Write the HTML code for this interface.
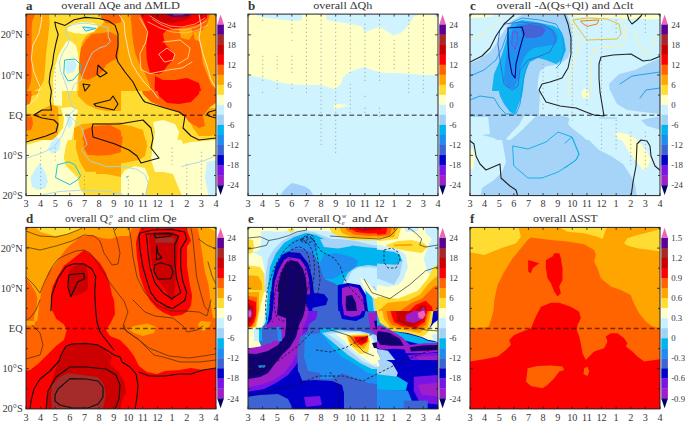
<!DOCTYPE html>
<html><head><meta charset="utf-8"><style>
html,body{margin:0;padding:0;background:#fff;overflow:hidden;}
svg{display:block;}
text{font-family:"Liberation Serif",serif;fill:#383838;}
</style></head><body>
<svg width="685" height="422" viewBox="0 0 685 422">
<defs><clipPath id="cp"><rect x="0" y="0" width="190" height="181.5"/></clipPath></defs>

<clipPath id="cpa"><rect x="26" y="14.1" width="190" height="181.5"/></clipPath>
<g clip-path="url(#cpa)">
<defs>
<clipPath id="ta1"><rect x="26" y="14" width="95" height="77"/></clipPath>
<clipPath id="ta2"><rect x="121" y="14" width="96" height="77"/></clipPath>
<clipPath id="ta4"><rect x="26" y="91" width="95" height="49"/></clipPath>
<clipPath id="ta5"><rect x="121" y="91" width="96" height="49"/></clipPath>
<clipPath id="ta6a"><rect x="26" y="140" width="70" height="57"/></clipPath>
<clipPath id="ta6b"><rect x="96" y="140" width="25" height="57"/></clipPath>
<clipPath id="ta7"><rect x="121" y="140" width="96" height="57"/></clipPath>
</defs>
<rect x="20" y="10" width="200" height="190" fill="#ffdc32"/>
<g clip-path="url(#ta1)"><g transform="translate(26,14) scale(0.2)">
<rect x="-10" y="-10" width="700" height="450" fill="#ffa500"/>
<path fill="#ffdc32" d="M-10 395 L30 390 L70 370 L90 330 L95 280 L100 200 L110 120 L118 50 L115 -10 L390 -10 L400 30 L370 60 L330 90 L300 110 L280 140 L270 200 L265 270 L262 330 L265 430 L-10 430Z"/>
<path fill="#ff6400" d="M-10 -10 L45 -10 L45 0 L30 40 L28 80 L28 150 L30 200 L28 260 L28 310 L22 350 L10 380 L-10 385Z"/>
<path fill="#ffffc8" d="M140 430 L135 330 L145 260 L165 200 L185 165 L200 140 L215 130 L230 140 L250 160 L260 200 L265 250 L262 300 L255 350 L250 400 L245 430Z"/>
<path fill="#ffffc8" d="M205 70 L230 50 L280 40 L340 45 L360 60 L340 90 L290 100 L240 95 L210 85Z"/>
<path fill="#c8f0ff" d="M195 260 L205 235 L240 230 L255 255 L240 290 L205 300Z"/>
<path fill="#c8f0ff" d="M285 65 L300 60 L345 72 L305 85Z"/>
<path fill="#ff6400" d="M275 170 L300 130 L330 100 L380 95 L420 90 L460 110 L465 160 L460 220 L430 235 L400 255 L380 290 L350 310 L310 330 L280 320 L265 280 L268 220Z"/>
<path fill="#ff6400" d="M370 -10 L480 -10 L480 40 L440 50 L400 45 L375 20Z"/>
</g></g>
<g clip-path="url(#ta2)"><g transform="translate(79,14) scale(0.2)">
<rect x="-10" y="-10" width="700" height="450" fill="#ffa500"/>
<path fill="#ff6400" d="M255 -10 L660 -10 L640 50 L610 90 L600 130 L610 180 L620 250 L640 300 L660 350 L690 380 L690 430 L365 430 L352 350 L332 300 L302 250 L282 200 L272 150 L266 100 L262 50Z"/>
<path fill="#ffa500" d="M500 75 L560 70 L570 100 L550 130 L510 120Z"/>
<path fill="#ffa500" d="M570 90 L620 80 L640 110 L620 140 L580 130Z"/>
<path fill="#ff0000" d="M300 -10 L645 -10 L640 20 L600 50 L560 60 L500 70 L440 80 L420 100 L430 150 L460 180 L480 200 L470 230 L440 260 L420 290 L400 300 L380 300 L355 292 L345 260 L338 220 L336 160 L342 110 L338 70 L320 30Z"/>
<path fill="#ff0000" d="M380 310 L420 330 L480 330 L540 320 L600 345 L615 400 L610 430 L385 430 L378 370Z"/>
<path fill="#cc0000" d="M355 -10 L560 -10 L560 20 L520 35 L460 45 L400 45 L360 30Z"/>
<path fill="#5a0096" d="M440 -10 L565 -10 L555 8 L520 14 L465 14 L445 8Z"/>
<path fill="#e050b0" d="M465 -10 L530 -10 L525 5 L472 6Z"/>
</g></g>
<g clip-path="url(#ta4)"><g transform="translate(26,84) scale(0.2)">
<rect x="-10" y="-10" width="700" height="450" fill="#ffdc32"/>
<path fill="#ffa500" d="M-10 -10 L80 -10 L75 30 L60 50 L30 60 L-10 65Z"/>
<path fill="#ffa500" d="M-10 145 L40 150 L80 128 L130 102 L160 115 L165 200 L160 250 L130 285 L-10 295Z"/>
<path fill="#ff6400" d="M-10 -10 L25 -10 L28 60 L20 100 L-10 110Z"/>
<path fill="#ff6400" d="M-10 160 L30 165 L35 200 L25 230 L-10 235Z"/>
<path fill="#ffffc8" d="M130 -10 L180 -10 L180 110 L140 105Z"/>
<path fill="#ffa500" d="M250 -10 L550 -10 L545 60 L530 120 L470 135 L400 135 L350 125 L300 100 L260 60Z"/>
<path fill="#ffffc8" d="M175 120 L225 115 L260 130 L250 170 L240 230 L225 290 L200 340 L170 380 L130 430 L-10 430 L-10 300 L120 290 L155 260 L185 220 L190 170Z"/>
<path fill="#c8f0ff" d="M205 160 L225 165 L232 200 L215 225 L205 200Z"/>
<path fill="#c8f0ff" d="M110 300 L150 265 L170 275 L165 320 L130 340 L110 330Z"/>
<path fill="#ffa500" d="M240 220 L280 200 L330 195 L420 195 L480 190 L540 210 L570 270 L560 340 L500 380 L420 400 L340 430 L250 430 L240 330Z"/>
<path fill="#ff6400" d="M290 230 L340 210 L420 205 L470 230 L490 270 L470 310 L400 320 L330 335 L290 330 L280 290Z"/>
<path fill="#ffffc8" d="M645 190 L690 180 L690 330 L650 320 L640 260Z"/>
<path fill="#ff6400" d="M560 -10 L690 -10 L690 120 L620 100 L580 60Z"/>
<path fill="#ff0000" d="M630 -10 L690 -10 L690 60 L650 30Z"/>
</g></g>
<g clip-path="url(#ta5)"><g transform="translate(79,84) scale(0.2)">
<rect x="-10" y="-10" width="700" height="450" fill="#ffdc32"/>
<path fill="#ffa500" d="M-10 -10 L200 -10 L210 60 L190 110 L120 130 L-10 130Z"/>
<path fill="#ffa500" d="M-10 190 L50 190 L100 195 L200 200 L260 210 L320 230 L335 290 L330 330 L250 335 L150 330 L100 300 L60 320 L-10 330Z"/>
<path fill="#ff6400" d="M-10 230 L50 210 L120 210 L190 230 L220 270 L200 300 L140 290 L80 310 L30 330 L-10 330Z"/>
<path fill="#ffa500" d="M450 150 L540 160 L570 220 L600 260 L660 260 L690 250 L690 120 L640 120 L600 150Z"/>
<path fill="#ff6400" d="M300 -10 L690 -10 L690 90 L650 120 L620 160 L630 210 L600 220 L550 190 L520 150 L470 130 L420 115 L360 90 L320 50Z"/>
<path fill="#ff0000" d="M380 -10 L610 -10 L600 50 L560 90 L500 100 L440 95 L400 60Z"/>
<path fill="#ffffc8" d="M370 190 L420 180 L480 200 L500 240 L490 290 L530 310 L600 300 L690 290 L690 430 L380 430 L360 370 L370 300 L380 240Z"/>
<path fill="#ffdc32" d="M340 340 L400 330 L480 340 L500 380 L490 430 L340 430Z"/>
<path fill="#c8f0ff" d="M620 360 L690 340 L690 430 L640 430Z"/>
</g></g>
<g clip-path="url(#ta6a)"><g transform="translate(26,112) scale(0.19904)">
<rect x="-10" y="-10" width="400" height="450" fill="#ffdc32"/>
<path fill="#ffa500" d="M-10 -10 L160 -10 L165 50 L140 90 L100 120 L40 135 L-10 145Z"/>
<path fill="#ff6400" d="M-10 30 L40 35 L42 60 L30 80 L-10 85Z"/>
<path fill="#ffa500" d="M255 100 L290 60 L360 40 L360 300 L300 300 L270 250 L250 180Z"/>
<path fill="#ff6400" d="M290 140 L320 80 L360 70 L360 220 L310 215 L290 180Z"/>
<path fill="#ffffc8" d="M-10 168 L60 150 L110 130 L150 100 L180 60 L195 20 L200 -10 L290 -10 L280 30 L250 70 L220 120 L200 170 L190 230 L200 270 L230 300 L260 330 L270 380 L300 430 L-10 430Z"/>
<path fill="#c8f0ff" d="M110 185 L130 150 L160 125 L175 150 L165 195 L130 210Z"/>
<path fill="#c8f0ff" d="M210 20 L225 30 L230 60 L215 85 L205 60Z"/>
<path fill="#c8f0ff" d="M70 255 L100 310 L110 350 L95 385 L60 390 L30 375 L22 330 L45 290Z"/>
</g></g>
<g clip-path="url(#ta6b)"><g transform="translate(26,112) scale(0.2)">
<rect x="-10" y="-10" width="700" height="450" fill="#ffdc32"/>
<path fill="#ffa500" d="M250 -10 L600 -10 L600 310 L500 330 L400 310 L300 310 L260 250 L250 150Z"/>
<path fill="#ff6400" d="M330 80 L400 70 L470 90 L490 150 L480 200 L420 215 L330 220 L290 200 L300 120Z"/>
</g></g>
<g clip-path="url(#ta7)"><g transform="translate(79,112) scale(0.2)">
<rect x="-10" y="-10" width="700" height="450" fill="#ffdc32"/>
<path fill="#ffa500" d="M-10 40 L60 30 L200 40 L280 60 L330 90 L340 170 L330 220 L300 240 L200 260 L120 280 L-10 290Z"/>
<path fill="#ff6400" d="M-10 70 L40 60 L120 60 L190 80 L220 130 L210 180 L160 200 L80 210 L-10 215Z"/>
<path fill="#ffffc8" d="M370 60 L420 40 L470 60 L500 110 L520 160 L560 150 L690 140 L690 430 L520 430 L490 360 L470 310 L420 300 L380 300 L360 240 L375 130Z"/>
<path fill="#ffa500" d="M490 -10 L690 -10 L690 130 L620 140 L560 130 L520 100 L500 50Z"/>
<path fill="#ff6400" d="M520 -10 L650 -10 L640 40 L600 70 L550 60 L525 30Z"/>
<path fill="#ffffc8" d="M200 330 L230 290 L280 270 L330 280 L350 330 L340 380 L330 430 L200 430Z"/>
<path fill="#ffdc32" d="M340 370 L380 340 L440 340 L480 370 L490 430 L330 430Z"/>
<path fill="#c8f0ff" d="M640 250 L690 240 L690 430 L650 430 L630 330Z"/>
<path fill="#00b4f0" d="M236 322 L244 321 L244 328 L236 328Z"/>
</g></g>
<g fill="none" stroke-linejoin="round" stroke-linecap="round">
<path stroke="#a8d4ec" stroke-width="0.9" d="M67.3 27.6 L74.1 24.2 L85.5 23.1 L99.1 25.4 L108.2 27.6 L108.2 36.7 L110.5 41.3 L106 45.8 L99.1 48.1 L92.3 52.7 L87.8 61.8 L83.2 73.1 L81 80 L74.1 84.5 L71.8 91.3 L68.4 93.6 L67.3 89.1 L65 82.2 L60.5 70.9 L59.3 61.8 L62.7 52.7 L67.3 45.8 L69.6 39 L65 32.2Z"/>
<path stroke="#1ec0e0" stroke-width="1" d="M65 60 L75 59 L81 65 L80 72 L73 80 L68 81 L64 74Z"/>
<path stroke="#1ec0e0" stroke-width="1" d="M83 27 L92 28 L96 28.4 L86 31Z"/>
<path stroke="#1ec0e0" stroke-width="1" d="M57.8 164.7 L68.8 161.8 L74.8 164.7 L80.7 175.7 L77.8 179.7 L69.8 184.7 L55.9 177.7Z"/>
<path stroke="#111" stroke-width="1.1" d="M51.4 110 L50.2 100.4 L51.4 91.3 L49.1 82.2 L50.2 73.1 L52.5 64 L53.6 55 L55.9 43.6 L58.2 34.5 L55.9 27.6 L54.8 22 L65 25.4 L74.1 19.7 L85.5 17.4 L99.1 18.5 L108.2 20.8 L115.1 25.4 L118 34 L118 46 L116 56 L118 62 L125 72 L133 82 L138 92 L143 100 L145 102 L165 108 L179 112 L185 116 L183 128 L191 136 L199 140 L216 138"/>
<path stroke="#111" stroke-width="1.1" d="M51.4 110 L42 110 L34 115 L42 118 L54 120 L58 124 L56 132 L46 136 L36 139 L26 142"/>
<path stroke="#111" stroke-width="1.1" d="M94 104 L110 100 L113 96 L118 104 L114 110 L96 106Z"/>
<path stroke="#111" stroke-width="1.1" d="M83 84 L90 85 L85 91Z"/>
<path stroke="#111" stroke-width="1.1" d="M98 65 L102 69 L107 73 L100 77 L97 74Z"/>
<path stroke="#111" stroke-width="1.1" d="M92 128 L93 124 L119 124 L143 120 L151 128 L153 138 L151 148 L159 158 L141 163 L137 156 L129 150 L115 144 L93 137Z"/>
<path stroke="#111" stroke-width="1.1" d="M209 112 L216 110 M216 118 L209 116 L207 114 L209 112"/>
</g>
<g fill="none" stroke="#a8d4ec" stroke-width="0.9" stroke-linejoin="round">
<path d="M26 158.3 L42.6 152.7 L53.7 147.2 L62.1 136.1 L67.6 122.2 L70.4 113.9 L75.9 108.3"/>
<path d="M67.6 113.9 L81.5 127.7 L87 144.4 L81.5 149.9 L89.8 161 L106.4 166.6 L123.1 166.6 L137 169.3 L145.3 174.9 L148.1 183.2 L145.3 196"/>
<path d="M37.1 196 L59.3 191.5 L81.5 190.2 L109.2 191.5 L123.1 194.3"/>
<path d="M181.3 166.6 L192.4 163.8 L203.5 161 L216 155.5"/>
<path d="M68.4 93.6 L70 100 L72 106 L75.9 108.3"/>
</g>
<!--WL-->
<g fill="none" stroke-linejoin="round" stroke-linecap="round">
<path stroke="#fff4e8" stroke-width="0.8" d="M41.7 14 L41.7 20 L39.1 33 L32.6 46 L31.3 59 L33.9 72 L40.4 87.8 L36.5 98.2 L27.4 106"/>
<path stroke="#fff4e8" stroke-width="0.8" d="M119 14 L120 16 L124 22 L125 34 L127 44 L129 54 L132 64 L138 74 L144 82 L152 90 L158 98"/>
<path stroke="#ffe8a0" stroke-width="0.8" d="M139.9 18 L147.8 31.9 L145.8 41.9 L139.9 53.8 L140.9 69.7 L149.8 73.7 L159.8 71.7 L169.9 69.7 L182 68 L192 62"/>
<path stroke="#fff4e8" stroke-width="0.8" d="M199 14 L201 26 L199 38 L203 54 L207 66 L211 80 L216 88"/>
<path stroke="#ffe8a0" stroke-width="0.8" d="M159 54 L167 48 L175 54 L173 60 L165 62Z"/>
<path stroke="#ffe8a0" stroke-width="0.8" d="M163 42 L180 40 L190 48 L188 58 L178 64"/>
<path stroke="#ffd080" stroke-width="0.7" d="M150 16 L160 22 L170 26 L182 27 L195 24 L205 18 M152 19 L162 25 L172 29 L184 30 L196 27 L206 21 M148 22 L160 28 L172 32 L186 33 L198 30 L208 25"/>
</g>

</g>
<g transform="translate(26,14.1)">
<g clip-path="url(#cp)">
<line x1="0" y1="101.1" x2="190" y2="101.1" stroke="#000" stroke-opacity="0.55" stroke-width="1.4" stroke-dasharray="4.8 3"/>
</g>
<path d="M0.00 0v2.5M0.00 181.5v-2.5M14.62 0v2.5M14.62 181.5v-2.5M29.23 0v2.5M29.23 181.5v-2.5M43.85 0v2.5M43.85 181.5v-2.5M58.46 0v2.5M58.46 181.5v-2.5M73.08 0v2.5M73.08 181.5v-2.5M87.69 0v2.5M87.69 181.5v-2.5M102.31 0v2.5M102.31 181.5v-2.5M116.92 0v2.5M116.92 181.5v-2.5M131.54 0v2.5M131.54 181.5v-2.5M146.15 0v2.5M146.15 181.5v-2.5M160.77 0v2.5M160.77 181.5v-2.5M175.38 0v2.5M175.38 181.5v-2.5M190.00 0v2.5M190.00 181.5v-2.5M0 161.40h2M190 161.40h-2M0 141.30h3M190 141.30h-3M0 121.20h2M190 121.20h-2M0 101.10h3M190 101.10h-3M0 81.00h2M190 81.00h-2M0 60.90h3M190 60.90h-3M0 40.80h2M190 40.80h-2M0 20.70h3M190 20.70h-3M0 0.60h2M190 0.60h-2" stroke="#222" stroke-width="0.8" fill="none"/>
<rect x="0" y="0" width="190" height="181.5" fill="none" stroke="#222" stroke-width="1"/>
<text x="0" y="-4.5" font-size="13" font-weight="bold" fill="#111">a</text>
<text x="35.3" y="-5.2" font-size="11" textLength="118.5" lengthAdjust="spacingAndGlyphs">overall &#916;Qe and &#916;MLD</text>
<text x="-3.3" y="24.30" font-size="10.4" text-anchor="end">20&#176;N</text>
<text x="-3.3" y="64.50" font-size="10.4" text-anchor="end">10&#176;N</text>
<text x="-3.3" y="104.70" font-size="10.4" text-anchor="end">EQ</text>
<text x="-3.3" y="144.90" font-size="10.4" text-anchor="end">10&#176;S</text>
<text x="-3.3" y="185.10" font-size="10.4" text-anchor="end">20&#176;S</text>
<text x="0.00" y="193.2" font-size="10.2" text-anchor="middle">3</text>
<text x="14.62" y="193.2" font-size="10.2" text-anchor="middle">4</text>
<text x="29.23" y="193.2" font-size="10.2" text-anchor="middle">5</text>
<text x="43.85" y="193.2" font-size="10.2" text-anchor="middle">6</text>
<text x="58.46" y="193.2" font-size="10.2" text-anchor="middle">7</text>
<text x="73.08" y="193.2" font-size="10.2" text-anchor="middle">8</text>
<text x="87.69" y="193.2" font-size="10.2" text-anchor="middle">9</text>
<text x="102.31" y="193.2" font-size="10.2" text-anchor="middle">10</text>
<text x="116.92" y="193.2" font-size="10.2" text-anchor="middle">11</text>
<text x="131.54" y="193.2" font-size="10.2" text-anchor="middle">12</text>
<text x="146.15" y="193.2" font-size="10.2" text-anchor="middle">1</text>
<text x="160.77" y="193.2" font-size="10.2" text-anchor="middle">2</text>
<text x="175.38" y="193.2" font-size="10.2" text-anchor="middle">3</text>
<text x="190.00" y="193.2" font-size="10.2" text-anchor="middle">4</text>
<path d="M191.3 10.430000000000007L194.60000000000002 0.4L197.9 10.430000000000007Z" fill="#f064b4"/>
<rect x="191.3" y="10.43" width="6.6" height="10.34" fill="#5a0096"/>
<rect x="191.3" y="20.47" width="6.6" height="10.34" fill="#a82828"/>
<rect x="191.3" y="30.51" width="6.6" height="10.34" fill="#cc0000"/>
<rect x="191.3" y="40.55" width="6.6" height="10.34" fill="#ff0000"/>
<rect x="191.3" y="50.59" width="6.6" height="10.34" fill="#ff6400"/>
<rect x="191.3" y="60.63" width="6.6" height="10.34" fill="#ffa500"/>
<rect x="191.3" y="70.67" width="6.6" height="10.34" fill="#ffdc32"/>
<rect x="191.3" y="80.71" width="6.6" height="10.34" fill="#ffffc8"/>
<rect x="191.3" y="90.75" width="6.6" height="10.34" fill="#c8f0ff"/>
<rect x="191.3" y="100.79" width="6.6" height="10.34" fill="#a0d2f5"/>
<rect x="191.3" y="110.83" width="6.6" height="10.34" fill="#00b4f0"/>
<rect x="191.3" y="120.87" width="6.6" height="10.34" fill="#1e8cf0"/>
<rect x="191.3" y="130.91" width="6.6" height="10.34" fill="#3c64d2"/>
<rect x="191.3" y="140.95" width="6.6" height="10.34" fill="#0000c8"/>
<rect x="191.3" y="150.99" width="6.6" height="10.34" fill="#7814e6"/>
<rect x="191.3" y="161.03" width="6.6" height="10.34" fill="#a01ec8"/>
<path d="M191.3 171.07L194.60000000000002 180.9L197.9 171.07Z" fill="#000064"/>
<text x="201.20000000000002" y="13.53" font-size="8.8">24</text>
<text x="201.20000000000002" y="33.61" font-size="8.8">18</text>
<text x="201.20000000000002" y="53.69" font-size="8.8">12</text>
<text x="201.20000000000002" y="73.77" font-size="8.8">6</text>
<text x="201.20000000000002" y="93.85" font-size="8.8">0</text>
<text x="201.20000000000002" y="113.93" font-size="8.8">-6</text>
<text x="201.20000000000002" y="134.01" font-size="8.8">-12</text>
<text x="201.20000000000002" y="154.09" font-size="8.8">-18</text>
<text x="201.20000000000002" y="174.17" font-size="8.8">-24</text>
</g>
<clipPath id="cpb"><rect x="248" y="14.1" width="190" height="181.5"/></clipPath>
<g clip-path="url(#cpb)">
<rect x="240" y="10" width="200" height="190" fill="#cff3ff"/>
<path fill="#ffffc8" d="M240 10 L256.4 10 L256.4 15 L262.5 17.3 L271.3 18.6 L280 19.4 L288.8 20.3 L297.5 20.8 L302 20.3 L302 15 L302 10 L326 10 L326 15 L327 20 L338 22 L350 23.7 L361.9 26.5 L364.3 32.5 L370.3 30 L378.7 26.9 L383.6 28.9 L393.2 35.4 L400.4 33.2 L405.2 28.9 L410 22.8 L413.7 16.8 L417.3 14.9 L417.3 10 L434 10 L434 15 L436 17 L440 17.5 L440 75.6 L420.2 74.8 L402.7 73.3 L382.2 72.7 L373.5 70.4 L364.7 66.9 L356 69.5 L347.2 73.3 L342.8 77.7 L341.4 83.5 L335.5 88.5 L332.6 88.5 L320.9 85 L306.3 85 L291.7 84.4 L277.1 82.1 L262.5 77.7 L248 75.6 L240 75.6 Z"/>
<path fill="#ffffc8" d="M334.2 103.8 L349.9 104.9 L334.2 109.2 L333.6 106.5Z"/>
<path fill="#a0d0fa" d="M280.9 197 L280.9 194.5 L284 190.1 L288.4 185.8 L291.9 183.1 L296.3 184 L305 186.6 L310.3 190.1 L312.9 194.5 L312.9 197Z"/>

</g>
<g transform="translate(248,14.1)">
<g clip-path="url(#cp)">
<line x1="0" y1="101.1" x2="190" y2="101.1" stroke="#000" stroke-opacity="0.55" stroke-width="1.4" stroke-dasharray="4.8 3"/>
</g>
<path d="M0.00 0v2.5M0.00 181.5v-2.5M14.62 0v2.5M14.62 181.5v-2.5M29.23 0v2.5M29.23 181.5v-2.5M43.85 0v2.5M43.85 181.5v-2.5M58.46 0v2.5M58.46 181.5v-2.5M73.08 0v2.5M73.08 181.5v-2.5M87.69 0v2.5M87.69 181.5v-2.5M102.31 0v2.5M102.31 181.5v-2.5M116.92 0v2.5M116.92 181.5v-2.5M131.54 0v2.5M131.54 181.5v-2.5M146.15 0v2.5M146.15 181.5v-2.5M160.77 0v2.5M160.77 181.5v-2.5M175.38 0v2.5M175.38 181.5v-2.5M190.00 0v2.5M190.00 181.5v-2.5M0 161.40h2M190 161.40h-2M0 141.30h3M190 141.30h-3M0 121.20h2M190 121.20h-2M0 101.10h3M190 101.10h-3M0 81.00h2M190 81.00h-2M0 60.90h3M190 60.90h-3M0 40.80h2M190 40.80h-2M0 20.70h3M190 20.70h-3M0 0.60h2M190 0.60h-2" stroke="#222" stroke-width="0.8" fill="none"/>
<rect x="0" y="0" width="190" height="181.5" fill="none" stroke="#222" stroke-width="1"/>
<text x="0" y="-4.5" font-size="13" font-weight="bold" fill="#111">b</text>
<text x="65.2" y="-5.2" font-size="11" textLength="59.2" lengthAdjust="spacingAndGlyphs">overall &#916;Qh</text>
<text x="0.00" y="193.2" font-size="10.2" text-anchor="middle">3</text>
<text x="14.62" y="193.2" font-size="10.2" text-anchor="middle">4</text>
<text x="29.23" y="193.2" font-size="10.2" text-anchor="middle">5</text>
<text x="43.85" y="193.2" font-size="10.2" text-anchor="middle">6</text>
<text x="58.46" y="193.2" font-size="10.2" text-anchor="middle">7</text>
<text x="73.08" y="193.2" font-size="10.2" text-anchor="middle">8</text>
<text x="87.69" y="193.2" font-size="10.2" text-anchor="middle">9</text>
<text x="102.31" y="193.2" font-size="10.2" text-anchor="middle">10</text>
<text x="116.92" y="193.2" font-size="10.2" text-anchor="middle">11</text>
<text x="131.54" y="193.2" font-size="10.2" text-anchor="middle">12</text>
<text x="146.15" y="193.2" font-size="10.2" text-anchor="middle">1</text>
<text x="160.77" y="193.2" font-size="10.2" text-anchor="middle">2</text>
<text x="175.38" y="193.2" font-size="10.2" text-anchor="middle">3</text>
<text x="190.00" y="193.2" font-size="10.2" text-anchor="middle">4</text>
<path d="M191.3 10.430000000000007L194.60000000000002 0.4L197.9 10.430000000000007Z" fill="#f064b4"/>
<rect x="191.3" y="10.43" width="6.6" height="10.34" fill="#5a0096"/>
<rect x="191.3" y="20.47" width="6.6" height="10.34" fill="#a82828"/>
<rect x="191.3" y="30.51" width="6.6" height="10.34" fill="#cc0000"/>
<rect x="191.3" y="40.55" width="6.6" height="10.34" fill="#ff0000"/>
<rect x="191.3" y="50.59" width="6.6" height="10.34" fill="#ff6400"/>
<rect x="191.3" y="60.63" width="6.6" height="10.34" fill="#ffa500"/>
<rect x="191.3" y="70.67" width="6.6" height="10.34" fill="#ffdc32"/>
<rect x="191.3" y="80.71" width="6.6" height="10.34" fill="#ffffc8"/>
<rect x="191.3" y="90.75" width="6.6" height="10.34" fill="#c8f0ff"/>
<rect x="191.3" y="100.79" width="6.6" height="10.34" fill="#a0d2f5"/>
<rect x="191.3" y="110.83" width="6.6" height="10.34" fill="#00b4f0"/>
<rect x="191.3" y="120.87" width="6.6" height="10.34" fill="#1e8cf0"/>
<rect x="191.3" y="130.91" width="6.6" height="10.34" fill="#3c64d2"/>
<rect x="191.3" y="140.95" width="6.6" height="10.34" fill="#0000c8"/>
<rect x="191.3" y="150.99" width="6.6" height="10.34" fill="#7814e6"/>
<rect x="191.3" y="161.03" width="6.6" height="10.34" fill="#a01ec8"/>
<path d="M191.3 171.07L194.60000000000002 180.9L197.9 171.07Z" fill="#000064"/>
<text x="201.20000000000002" y="13.53" font-size="8.8">24</text>
<text x="201.20000000000002" y="33.61" font-size="8.8">18</text>
<text x="201.20000000000002" y="53.69" font-size="8.8">12</text>
<text x="201.20000000000002" y="73.77" font-size="8.8">6</text>
<text x="201.20000000000002" y="93.85" font-size="8.8">0</text>
<text x="201.20000000000002" y="113.93" font-size="8.8">-6</text>
<text x="201.20000000000002" y="134.01" font-size="8.8">-12</text>
<text x="201.20000000000002" y="154.09" font-size="8.8">-18</text>
<text x="201.20000000000002" y="174.17" font-size="8.8">-24</text>
</g>
<clipPath id="cpc"><rect x="470" y="14.1" width="190" height="181.5"/></clipPath>
<g clip-path="url(#cpc)">
<defs>
<clipPath id="tc1"><rect x="470" y="14" width="105" height="77"/></clipPath>
<clipPath id="tc2"><rect x="575" y="14" width="86" height="77"/></clipPath>
<clipPath id="tc4"><rect x="470" y="91" width="95" height="49"/></clipPath>
<clipPath id="tc5"><rect x="565" y="91" width="96" height="49"/></clipPath>
<clipPath id="tc6"><rect x="470" y="140" width="95" height="57"/></clipPath>
<clipPath id="tc7"><rect x="565" y="140" width="96" height="57"/></clipPath>
</defs>
<rect x="465" y="10" width="200" height="190" fill="#cff3ff"/>
<g clip-path="url(#tc1)"><g transform="translate(470,14) scale(0.2)">
<path fill="#ffffc8" d="M-10 -10 L130 -10 L110 12 L60 18 L-10 20Z"/>
<path fill="#ffffc8" d="M500 -10 L540 -10 L540 12 L505 10Z"/>
<path fill="#a6d4f8" d="M-10 250 L40 230 L100 190 L130 150 L160 100 L200 40 L250 10 L300 -10 L480 -10 L500 40 L510 100 L505 170 L490 220 L450 250 L380 262 L350 285 L340 330 L335 430 L-10 430Z"/>
<path fill="#10b4f0" d="M110 430 L110 380 L120 300 L150 230 L170 170 L190 100 L210 50 L260 30 L330 40 L420 60 L450 80 L470 120 L480 180 L460 230 L430 250 L380 230 L340 220 L300 240 L280 280 L270 330 L260 430Z"/>
<path fill="#2090f0" d="M170 330 L175 250 L190 150 L210 80 L240 50 L300 45 L370 50 L420 80 L440 110 L430 150 L380 160 L320 170 L290 190 L270 220 L250 270 L240 330 L220 370 L190 370Z"/>
<path fill="#4464d6" d="M250 60 L300 50 L360 60 L380 80 L360 110 L320 120 L280 120 L260 100Z"/>
</g></g>
<g clip-path="url(#tc2)"><g transform="translate(523,14) scale(0.2)">
<path fill="#ffffc8" d="M220 -10 L690 -10 L690 25 L620 28 L580 20 L540 25 L480 20 L400 18 L300 15 L220 12Z"/>
<path fill="#a6d4f8" d="M430 350 L480 300 L560 280 L640 240 L690 220 L690 430 L440 430Z"/>
<path fill="#ffffc8" d="M290 430 L292 385 L310 372 L328 385 L332 430Z"/>
</g></g>
<g clip-path="url(#tc4)"><g transform="translate(470,84) scale(0.2)">
<path fill="#a6d4f8" d="M-10 -10 L360 -10 L350 60 L345 130 L345 165 L-10 165Z"/>
<path fill="#10b4f0" d="M110 -10 L270 -10 L260 60 L240 110 L225 150 L200 140 L170 100 L150 60 L140 20Z"/>
<path fill="#a6d4f8" d="M90 160 L690 160 L690 430 L-10 430 L-10 260 L60 255 L100 250Z"/>
<path fill="#cff3ff" d="M270 160 L330 160 L300 190 L260 230 L220 265 L195 285 L180 275 L210 240 L245 205Z"/>
<path fill="#cff3ff" d="M-10 250 L60 255 L120 270 L160 300 L175 340 L180 430 L-10 430Z"/>
<path fill="#ffffc8" d="M-10 310 L25 320 L30 360 L20 400 L-10 400Z"/>
</g></g>
<g clip-path="url(#tc5)"><g transform="translate(523,84) scale(0.2)">
<path fill="#a6d4f8" d="M-10 -10 L90 -10 L85 165 L-10 165Z"/>
<path fill="#a6d4f8" d="M430 -10 L440 40 L470 100 L520 130 L600 140 L690 150 L690 -10Z"/>
<path fill="#a6d4f8" d="M-10 170 L100 160 L225 165 L232 175 L225 200 L250 225 L290 255 L330 290 L380 320 L420 360 L500 400 L520 430 L-10 430Z"/>
<path fill="#a6d4f8" d="M380 168 L470 168 L470 174 L380 174Z"/>
<path fill="#a6d4f8" d="M590 180 L690 160 L690 230 L620 210Z"/>
<path fill="#ffffc8" d="M290 45 L310 30 L330 45 L328 70 L300 70Z"/>
<path fill="#ffffc8" d="M460 240 L520 250 L580 280 L620 300 L640 350 L640 430 L550 430 L520 360 L490 300Z"/>
</g></g>
<g clip-path="url(#tc6)"><g transform="translate(470,112) scale(0.2)">
<path fill="#a6d4f8" d="M90 20 L280 20 L350 20 L540 20 L560 80 L600 130 L640 180 L690 220 L690 430 L50 430 L60 380 L120 340 L160 300 L180 250 L170 190 L160 140 L90 120 L80 80 L90 40Z"/>
<path fill="#cff3ff" d="M280 20 L350 20 L320 60 L250 120 L200 130 L170 140 L230 90Z"/>
<path fill="#a6d4f8" d="M-10 -10 L240 -10 L220 40 L150 60 L80 50 L-10 30Z"/>
<path fill="#10b4f0" d="M190 -10 L240 -10 L230 5 L200 5Z"/>
<path fill="#ffffc8" d="M-10 180 L15 185 L25 230 L15 285 L-10 290Z"/>
</g></g>
<g clip-path="url(#tc7)"><g transform="translate(523,112) scale(0.2)">
<path fill="#a6d4f8" d="M-10 -10 L340 -10 L340 20 L290 80 L330 140 L380 190 L440 220 L500 260 L540 320 L560 360 L570 430 L-10 430Z"/>
<path fill="#a6d4f8" d="M560 20 L690 10 L690 70 L620 60Z"/>
<path fill="#ffffc8" d="M460 100 L530 120 L590 160 L620 200 L640 240 L620 280 L600 290 L560 240 L530 200 L500 150Z"/>
</g></g>
<g fill="none" stroke-linejoin="round" stroke-linecap="round">
<path stroke="#fff3a0" stroke-width="0.9" d="M570.0 14.0 L573.0 26.0 L579.0 40.0 L577.0 54.0 L571.0 70.0 L568.0 84.0 L569.0 98.0 M593.0 50.0 L591.0 64.0 L591.0 80.0 L592.0 98.0 M593.0 50.0 L599.0 48.0 L613.0 46.0 L623.0 46.0 L626.0 34.0 L623.0 20.0 L619.0 16.0 M635.0 30.0 L639.0 44.0 L645.0 56.0 L651.0 50.0 L655.0 38.0 L660.0 34.0 M470 40 L480 36 L490 30 L498 22 L504 14"/>
<path stroke="#f0c020" stroke-width="1" d="M573 20 L587 18 L607 19 L619 24 L621 34 L617 39 L587 40 L581 32Z"/>
<path stroke="#f08010" stroke-width="1" d="M581 21 L599 20 L597 24 L587 26.4 L582 23Z"/>
<path stroke="#1a9ae8" stroke-width="0.9" d="M470 76 L484 70 L496 60 L502 48 L507 34 L513 22 L522 18 L540 20 L556 24 L562 34 L564 50 L560 64 L556 68 M470 100 L480 96 L494 98 L500 108 L506 114 L516 114 L520 104 L522 90 L524 76 L528 64 M620 84 L632 76 L646 74 L660 72 M640 98 L646 90 L660 88"/>
<path stroke="#1ab0ec" stroke-width="1" d="M513 146 L528 149 L546 142 L558 132 L572 137 L579 154 L576 160 L558 172 L542 178 L528 178 L514 166Z"/>
<path stroke="#1ab0ec" stroke-width="1" d="M565 143 L572 137 L579 154 L576 160 L565 168"/>
<path stroke="#000080" stroke-width="1.1" d="M508 28 L522 27 L524 34 L520 48 L516 64 L515 78 L512 74 L509 58 L508 44Z"/>
<path stroke="#9040d0" stroke-width="0.9" d="M513 32 L517 32 L518 40 L515 49 L512 44Z"/>
<path stroke="#4060d8" stroke-width="0.9" d="M500 30 L505 24 L520 22 L540 24 L552 30 L556 40 L550 52 L540 56 L528 60 L520 70 L518 86 L512 90 L504 84 L500 60 L498 44Z"/>
<path stroke="#222" stroke-width="1.1" d="M470 62 L482 56 L490 48 L496 36 L504 24 L513 16 L514 13"/>
<path stroke="#222" stroke-width="1.1" d="M564 13 L568 24 L571 38 L571 54 L568 68 L562 78 L550 82 L542 84 L539 90 L546 102 L560 106 L576 108 L586 112 L594 115 L604 116 L602 104 L600 92 L599 78 L599 64 L601 57 L613 55 L631 54 L643 61 L651 60 L661 56"/>
<path stroke="#222" stroke-width="1.1" d="M627 13 L629 20 L632 24 L637 20 L641 16 L643 13"/>
<path stroke="#222" stroke-width="1.1" d="M469 140 L474 144 L476 156 L480 164 L486 170 L500 164 L501 178 L510 186 L516 190 L518 197"/>
<path stroke="#222" stroke-width="1.1" d="M631 197 L633 182 L636 166 L637 144 L641 140 L647 141 L650 146 L651 156 L655 166 L661 171"/>
</g>

</g>
<g transform="translate(470,14.1)">
<g clip-path="url(#cp)">
<line x1="0" y1="101.1" x2="190" y2="101.1" stroke="#000" stroke-opacity="0.55" stroke-width="1.4" stroke-dasharray="4.8 3"/>
</g>
<path d="M0.00 0v2.5M0.00 181.5v-2.5M14.62 0v2.5M14.62 181.5v-2.5M29.23 0v2.5M29.23 181.5v-2.5M43.85 0v2.5M43.85 181.5v-2.5M58.46 0v2.5M58.46 181.5v-2.5M73.08 0v2.5M73.08 181.5v-2.5M87.69 0v2.5M87.69 181.5v-2.5M102.31 0v2.5M102.31 181.5v-2.5M116.92 0v2.5M116.92 181.5v-2.5M131.54 0v2.5M131.54 181.5v-2.5M146.15 0v2.5M146.15 181.5v-2.5M160.77 0v2.5M160.77 181.5v-2.5M175.38 0v2.5M175.38 181.5v-2.5M190.00 0v2.5M190.00 181.5v-2.5M0 161.40h2M190 161.40h-2M0 141.30h3M190 141.30h-3M0 121.20h2M190 121.20h-2M0 101.10h3M190 101.10h-3M0 81.00h2M190 81.00h-2M0 60.90h3M190 60.90h-3M0 40.80h2M190 40.80h-2M0 20.70h3M190 20.70h-3M0 0.60h2M190 0.60h-2" stroke="#222" stroke-width="0.8" fill="none"/>
<rect x="0" y="0" width="190" height="181.5" fill="none" stroke="#222" stroke-width="1"/>
<text x="0" y="-4.5" font-size="13" font-weight="bold" fill="#111">c</text>
<text x="26.6" y="-5.2" font-size="11" textLength="136.8" lengthAdjust="spacingAndGlyphs">overall -&#916;(Qs+Ql) and &#916;clt</text>
<text x="0.00" y="193.2" font-size="10.2" text-anchor="middle">3</text>
<text x="14.62" y="193.2" font-size="10.2" text-anchor="middle">4</text>
<text x="29.23" y="193.2" font-size="10.2" text-anchor="middle">5</text>
<text x="43.85" y="193.2" font-size="10.2" text-anchor="middle">6</text>
<text x="58.46" y="193.2" font-size="10.2" text-anchor="middle">7</text>
<text x="73.08" y="193.2" font-size="10.2" text-anchor="middle">8</text>
<text x="87.69" y="193.2" font-size="10.2" text-anchor="middle">9</text>
<text x="102.31" y="193.2" font-size="10.2" text-anchor="middle">10</text>
<text x="116.92" y="193.2" font-size="10.2" text-anchor="middle">11</text>
<text x="131.54" y="193.2" font-size="10.2" text-anchor="middle">12</text>
<text x="146.15" y="193.2" font-size="10.2" text-anchor="middle">1</text>
<text x="160.77" y="193.2" font-size="10.2" text-anchor="middle">2</text>
<text x="175.38" y="193.2" font-size="10.2" text-anchor="middle">3</text>
<text x="190.00" y="193.2" font-size="10.2" text-anchor="middle">4</text>
<path d="M191.3 10.430000000000007L194.60000000000002 0.4L197.9 10.430000000000007Z" fill="#f064b4"/>
<rect x="191.3" y="10.43" width="6.6" height="10.34" fill="#5a0096"/>
<rect x="191.3" y="20.47" width="6.6" height="10.34" fill="#a82828"/>
<rect x="191.3" y="30.51" width="6.6" height="10.34" fill="#cc0000"/>
<rect x="191.3" y="40.55" width="6.6" height="10.34" fill="#ff0000"/>
<rect x="191.3" y="50.59" width="6.6" height="10.34" fill="#ff6400"/>
<rect x="191.3" y="60.63" width="6.6" height="10.34" fill="#ffa500"/>
<rect x="191.3" y="70.67" width="6.6" height="10.34" fill="#ffdc32"/>
<rect x="191.3" y="80.71" width="6.6" height="10.34" fill="#ffffc8"/>
<rect x="191.3" y="90.75" width="6.6" height="10.34" fill="#c8f0ff"/>
<rect x="191.3" y="100.79" width="6.6" height="10.34" fill="#a0d2f5"/>
<rect x="191.3" y="110.83" width="6.6" height="10.34" fill="#00b4f0"/>
<rect x="191.3" y="120.87" width="6.6" height="10.34" fill="#1e8cf0"/>
<rect x="191.3" y="130.91" width="6.6" height="10.34" fill="#3c64d2"/>
<rect x="191.3" y="140.95" width="6.6" height="10.34" fill="#0000c8"/>
<rect x="191.3" y="150.99" width="6.6" height="10.34" fill="#7814e6"/>
<rect x="191.3" y="161.03" width="6.6" height="10.34" fill="#a01ec8"/>
<path d="M191.3 171.07L194.60000000000002 180.9L197.9 171.07Z" fill="#000064"/>
<text x="201.20000000000002" y="13.53" font-size="8.8">24</text>
<text x="201.20000000000002" y="33.61" font-size="8.8">18</text>
<text x="201.20000000000002" y="53.69" font-size="8.8">12</text>
<text x="201.20000000000002" y="73.77" font-size="8.8">6</text>
<text x="201.20000000000002" y="93.85" font-size="8.8">0</text>
<text x="201.20000000000002" y="113.93" font-size="8.8">-6</text>
<text x="201.20000000000002" y="134.01" font-size="8.8">-12</text>
<text x="201.20000000000002" y="154.09" font-size="8.8">-18</text>
<text x="201.20000000000002" y="174.17" font-size="8.8">-24</text>
</g>
<clipPath id="cpd"><rect x="26" y="227.4" width="190" height="181.5"/></clipPath>
<g clip-path="url(#cpd)">
<rect x="20" y="220" width="200" height="195" fill="#ff6400"/>
<!-- orange upper-left + top -->
<path fill="#ffa500" d="M20 220 L20 278 L26 278 L29.8 282.7 L35.5 292.2 L37.4 297.9 L36.4 307.4 L33.6 319.7 L34.5 321.6 L37.4 320.7 L38.3 313.1 L39.3 303.6 L41.2 292.2 L45 280.9 L48.7 271.4 L54.4 265.7 L58.2 260 L63 253 L68 247 L74 242 L80 237 L92 235 L102 238 L110 239 L120 236 L129 236 L131 231 L133 220 Z"/>
<path fill="#ffa500" d="M197.2 220 L197.2 227 L199.8 237.4 L201.5 249.5 L203.3 261.6 L205 272 L208.4 284.1 L210 296 L211 306 L212 312 L213 318 L220 318 L220 220 Z"/>
<path fill="#ffdc32" d="M35 220 L35 227 L41 232 L55 236 L66 234.6 L76 231 L84 227 L84 220Z"/>
<path fill="#ffdc32" d="M206.7 220 L206.7 227 L216 231.3 L220 231.3 L220 220Z"/>
<path fill="#ffa500" d="M128 329 L134 326 L147 323.6 L156 327 L154 333 L143 336 L134 333 Z"/>
<path fill="#ffa500" d="M198 324 L201 321 L211 322 L209 327 L204 331 L199 329 Z"/>
<path fill="#ffa500" d="M20 320.7 L35.5 321 L34 325.4 L20 325.4 Z"/>
<!-- red main left+bottom -->
<path fill="#ff0000" d="M84 250 L92 255 L100 263 L106 273 L110 285 L112 295 L114 300 L115 314 L110 324 L106 330 L110 336 L120 340 L128 348 L134 356 L139 366 L147 372 L157 374 L165 371 L179 370 L191 368 L203 370 L220 368 L220 415 L20 415 L20 372 L30 370 L38 364 L46 356 L56 346 L63.9 340 L66.8 330.1 L63.9 324.5 L56.3 318.8 L51.6 309.3 L50.6 297.9 L52.5 286.5 L58.2 275.2 L63.9 265.7 L71.5 260 Z"/>
<!-- red right blob -->
<path fill="#ff0000" d="M137.9 234.9 L141 227 L186 227 L189 234.9 L191 240.8 L187 246.7 L187 266.3 L189.8 284.2 L192.2 296.1 L191 305.6 L187.4 311.5 L181.5 315.1 L172 316.3 L163.7 312.7 L156.6 308 L149.5 299.7 L144.7 290.2 L139.8 276.2 L136.9 256.5 L135.9 242.7 Z"/>
<!-- crimson right -->
<path fill="#cc0000" d="M148.7 234.9 L153.6 231.9 L174.3 231.9 L179.2 236.8 L178.2 244.7 L177.2 256.5 L176.2 270.3 L175.6 279.5 L175 289 L173.8 298.5 L171.4 302.6 L168.5 296.1 L164.9 289 L160.2 283 L156.6 278.3 L153 270 L149.7 246.7 Z"/>
<path fill="#a52a2a" d="M155.6 237.8 L174.3 237.8 L174.3 242.7 L155.6 242.7 Z"/>
<!-- crimson left blob -->
<path fill="#cc0000" d="M67.7 277.1 L70.5 267.6 L81 263.8 L86 265.7 L88 272 L88 290 L79.1 295.1 L71.5 296 L68.7 288.4 Z"/>
<!-- crimson bottom -->
<path fill="#cc0000" d="M61 355 L66 347 L70 344 L86 343.4 L98 345 L106 351 L112 357 L110 365 L118 371 L124 381 L126 393 L122 401 L120 410 L46 410 L48 395 L52 381 L56 369 L58 361 Z"/>
<path fill="#a52a2a" d="M52 385 L60 377 L68 373 L82 375 L98 377 L104 385 L106 395 L104 405 L102 410 L52 410 L51 397 Z"/>
<g fill="none" stroke-linejoin="round" stroke-linecap="round">
<g stroke="#3a2a10" stroke-width="0.75" stroke-opacity="0.9">
<path d="M26 231 L34 234 L40 236 L56 237 L68 234 L78 230 L82 228"/>
<path d="M26 247 L40 250 L56 246 L72 241 L84 235 L94 236 L100 241 L104 253 L112 265 L118 264 L120 253 L117 239 L114 231 L118 227"/>
<path d="M26 277 L34 285 L40 293 L44 283 L52 267 L58 259 L66 255 L76 251 L84 250 L90 253 L96 261 L104 273 L110 283 L116 291 L124 301 L128 312 L123 326 L125 330 L139 340 L149 348 L169 356 L189 358 L203 356 L216 354"/>
<path d="M129 227 L131 239 L133 257 L137 277 L145 293 L157 305 L171 311 L185 311 L199 312 L207 316 L209 308 L211 300"/>
<path d="M190.7 227 L192.7 237 L194.6 256.9 L196.6 276.8 L200.6 292.7 L204.6 306.6 L208.6 311"/>
<path d="M198.6 239 L206.6 244.9 L216 248.9"/>
<path d="M208 262 L212 276 L216 284"/>
<path d="M32 325 L40 333 L43 345 L40 355 L26 359"/>
<path d="M124 325 L126 331 L138 339 L146 347 L154 355 L163 357 L180 362 L200 362 L216 360"/>
<path d="M133 300 L137 304 L145 312 L155 316 L173 318 L183 326 L187 332 L197 330 L203 326"/>
<path d="M40 300 L36 310 L30 318 L26 320"/>
</g>
<g stroke="#111" stroke-width="1.15">
<path d="M50.9 310.6 L51.9 294.7 L57.8 278.8 L65.8 266.8 L73.8 263.8 L83.7 263.8 L91.7 268.8 L95.7 276.8 L94.7 292.7 L95.7 310.6 L97 322 L100 332 L106 340 L114 350"/>
<path d="M68.8 274.8 L83.7 273.2 L84.7 278.8 L77.8 281.7 L70.8 296.7 L67.8 286.7Z"/>
<path d="M139.9 233 L152.8 230 L170.8 229.4 L184.7 232 L186.7 238.9 L180.7 248.9 L180.7 266.8 L182.7 280.7 L186.7 292.7 L184.7 300.6 L172.8 308.6 L166.8 306.6 L156.8 300.6 L150.9 292.7 L146.9 280.7 L142.9 266.8 L139.9 248.9 L138.9 237Z"/>
<path d="M145.9 234 L168.8 233 L178.7 236 L174.7 244.9 L174.7 262.8 L176.7 278.8 L180.7 292.7 L171.8 298.7 L162.8 292.7 L154.8 282.7 L149.9 266.8 L147.9 250.9 L146.9 238.9Z"/>
<path d="M153.8 234 L171.8 233.6 L169.8 236 L155.8 238Z"/>
<path d="M156.8 245.9 L157.8 252.9 L161.8 257.9 L156.4 259.8Z"/>
<path d="M154.8 264.8 L160.8 262.8 L170.8 265.8 L173.2 271.8 L170.8 278.8 L157.8 279.1 L153.8 270.8Z"/>
<path d="M30 409 L31 401 L34 389 L40 379 L50 371 L59 361 L61 355 L66 346 L72 344 L86 343.4 L98 345 L108 351 L114 355 L120 357 L122 362 L130 367 L136 374 L138 385 L137 397 L135 409"/>
<path d="M46 409 L48 391 L56 377 L70 367 L86 367 L106 369 L116 375 L120 385 L119 399 L115 409"/>
<path d="M55 395 L58 389 L70 378.6 L86 379 L98 381 L103 387 L103 397 L98 404 L88 408 L72 408 L60 405 L55 401Z"/>
<path d="M139 372 L149 376 L165 376 L179 374 L191 374 L203 370 L216 368"/>
</g>
</g>

</g>
<g transform="translate(26,227.4)">
<g clip-path="url(#cp)">
<line x1="0" y1="101.1" x2="190" y2="101.1" stroke="#000" stroke-opacity="0.55" stroke-width="1.4" stroke-dasharray="4.8 3"/>
</g>
<path d="M0.00 0v2.5M0.00 181.5v-2.5M14.62 0v2.5M14.62 181.5v-2.5M29.23 0v2.5M29.23 181.5v-2.5M43.85 0v2.5M43.85 181.5v-2.5M58.46 0v2.5M58.46 181.5v-2.5M73.08 0v2.5M73.08 181.5v-2.5M87.69 0v2.5M87.69 181.5v-2.5M102.31 0v2.5M102.31 181.5v-2.5M116.92 0v2.5M116.92 181.5v-2.5M131.54 0v2.5M131.54 181.5v-2.5M146.15 0v2.5M146.15 181.5v-2.5M160.77 0v2.5M160.77 181.5v-2.5M175.38 0v2.5M175.38 181.5v-2.5M190.00 0v2.5M190.00 181.5v-2.5M0 161.40h2M190 161.40h-2M0 141.30h3M190 141.30h-3M0 121.20h2M190 121.20h-2M0 101.10h3M190 101.10h-3M0 81.00h2M190 81.00h-2M0 60.90h3M190 60.90h-3M0 40.80h2M190 40.80h-2M0 20.70h3M190 20.70h-3M0 0.60h2M190 0.60h-2" stroke="#222" stroke-width="0.8" fill="none"/>
<rect x="0" y="0" width="190" height="181.5" fill="none" stroke="#222" stroke-width="1"/>
<text x="0" y="-4.5" font-size="13" font-weight="bold" fill="#111">d</text>
<text x="38.9" y="-5.1" font-size="11" textLength="43.1" lengthAdjust="spacingAndGlyphs">overall Q</text><text x="83.4" y="-9" font-size="6.5" font-style="italic">o</text><text x="82.8" y="-2.2" font-size="6.5" font-style="italic">e</text><text x="91.8" y="-5.1" font-size="11" textLength="58.7" lengthAdjust="spacingAndGlyphs">and clim Qe</text>
<text x="-3.3" y="24.30" font-size="10.4" text-anchor="end">20&#176;N</text>
<text x="-3.3" y="64.50" font-size="10.4" text-anchor="end">10&#176;N</text>
<text x="-3.3" y="104.70" font-size="10.4" text-anchor="end">EQ</text>
<text x="-3.3" y="144.90" font-size="10.4" text-anchor="end">10&#176;S</text>
<text x="-3.3" y="185.10" font-size="10.4" text-anchor="end">20&#176;S</text>
<text x="0.00" y="193.2" font-size="10.2" text-anchor="middle">3</text>
<text x="14.62" y="193.2" font-size="10.2" text-anchor="middle">4</text>
<text x="29.23" y="193.2" font-size="10.2" text-anchor="middle">5</text>
<text x="43.85" y="193.2" font-size="10.2" text-anchor="middle">6</text>
<text x="58.46" y="193.2" font-size="10.2" text-anchor="middle">7</text>
<text x="73.08" y="193.2" font-size="10.2" text-anchor="middle">8</text>
<text x="87.69" y="193.2" font-size="10.2" text-anchor="middle">9</text>
<text x="102.31" y="193.2" font-size="10.2" text-anchor="middle">10</text>
<text x="116.92" y="193.2" font-size="10.2" text-anchor="middle">11</text>
<text x="131.54" y="193.2" font-size="10.2" text-anchor="middle">12</text>
<text x="146.15" y="193.2" font-size="10.2" text-anchor="middle">1</text>
<text x="160.77" y="193.2" font-size="10.2" text-anchor="middle">2</text>
<text x="175.38" y="193.2" font-size="10.2" text-anchor="middle">3</text>
<text x="190.00" y="193.2" font-size="10.2" text-anchor="middle">4</text>
<path d="M191.3 10.430000000000007L194.60000000000002 0.4L197.9 10.430000000000007Z" fill="#f064b4"/>
<rect x="191.3" y="10.43" width="6.6" height="10.34" fill="#5a0096"/>
<rect x="191.3" y="20.47" width="6.6" height="10.34" fill="#a82828"/>
<rect x="191.3" y="30.51" width="6.6" height="10.34" fill="#cc0000"/>
<rect x="191.3" y="40.55" width="6.6" height="10.34" fill="#ff0000"/>
<rect x="191.3" y="50.59" width="6.6" height="10.34" fill="#ff6400"/>
<rect x="191.3" y="60.63" width="6.6" height="10.34" fill="#ffa500"/>
<rect x="191.3" y="70.67" width="6.6" height="10.34" fill="#ffdc32"/>
<rect x="191.3" y="80.71" width="6.6" height="10.34" fill="#ffffc8"/>
<rect x="191.3" y="90.75" width="6.6" height="10.34" fill="#c8f0ff"/>
<rect x="191.3" y="100.79" width="6.6" height="10.34" fill="#a0d2f5"/>
<rect x="191.3" y="110.83" width="6.6" height="10.34" fill="#00b4f0"/>
<rect x="191.3" y="120.87" width="6.6" height="10.34" fill="#1e8cf0"/>
<rect x="191.3" y="130.91" width="6.6" height="10.34" fill="#3c64d2"/>
<rect x="191.3" y="140.95" width="6.6" height="10.34" fill="#0000c8"/>
<rect x="191.3" y="150.99" width="6.6" height="10.34" fill="#7814e6"/>
<rect x="191.3" y="161.03" width="6.6" height="10.34" fill="#a01ec8"/>
<path d="M191.3 171.07L194.60000000000002 180.9L197.9 171.07Z" fill="#000064"/>
<text x="201.20000000000002" y="13.53" font-size="8.8">24</text>
<text x="201.20000000000002" y="33.61" font-size="8.8">18</text>
<text x="201.20000000000002" y="53.69" font-size="8.8">12</text>
<text x="201.20000000000002" y="73.77" font-size="8.8">6</text>
<text x="201.20000000000002" y="93.85" font-size="8.8">0</text>
<text x="201.20000000000002" y="113.93" font-size="8.8">-6</text>
<text x="201.20000000000002" y="134.01" font-size="8.8">-12</text>
<text x="201.20000000000002" y="154.09" font-size="8.8">-18</text>
<text x="201.20000000000002" y="174.17" font-size="8.8">-24</text>
</g>
<clipPath id="cpe"><rect x="248" y="227.4" width="190" height="181.5"/></clipPath>
<g clip-path="url(#cpe)">
<defs>
<clipPath id="teab"><rect x="248" y="227" width="129" height="84"/></clipPath>
<clipPath id="tec"><rect x="377" y="227" width="62" height="84"/></clipPath>
<clipPath id="tedg"><rect x="248" y="311" width="129" height="99"/></clipPath>
<clipPath id="tef1"><rect x="377" y="311" width="62" height="49"/></clipPath>
<clipPath id="tef2"><rect x="377" y="360" width="62" height="50"/></clipPath>
</defs>
<g clip-path="url(#teab)"><g transform="translate(248,227) scale(0.2)">
<rect x="-20" y="-20" width="720" height="460" fill="#c8f0ff"/>
<path fill="#a6d4f8" d="M80 430 L85 330 L90 230 L100 160 L130 110 L170 70 L220 40 L280 20 L330 25 L380 45 L420 60 L460 60 L540 70 L620 90 L690 100 L690 230 L620 210 L560 200 L520 220 L500 260 L480 300 L440 430Z"/>
<path fill="#ffffc8" d="M-10 10 L60 15 L68 40 L65 80 L60 110 L40 122 L15 118 L-10 105Z"/>
<path fill="#ffffc8" d="M-10 135 L30 128 L70 150 L80 200 L85 230 L-10 230Z"/>
<path fill="#ffffc8" d="M-10 -10 L690 -10 L690 10 L600 12 L500 15 L450 25 L380 20 L300 15 L200 20 L150 25 L100 20 L50 25 L-10 20Z"/>
<path fill="#ffdc32" d="M195 10 L235 10 L215 30Z"/>
<path fill="#ffdc32" d="M-10 60 L25 65 L30 100 L20 130 L-10 135Z"/>
<path fill="#ffdc32" d="M-10 190 L60 200 L80 230 L85 300 L80 430 L-10 430Z"/>
<path fill="#ffa500" d="M-10 240 L50 245 L70 280 L70 340 L60 430 L-10 430Z"/>
<path fill="#ff6400" d="M-10 320 L30 330 L45 370 L40 430 L-10 430Z"/>
<path fill="#ff0000" d="M-10 350 L20 360 L28 400 L22 430 L-10 430Z"/>
<path fill="#cc0000" d="M-10 380 L12 390 L10 430 L-10 430Z"/>
<path fill="#00b4f0" d="M95 430 L100 300 L110 200 L140 130 L180 80 L230 50 L290 30 L340 40 L380 60 L430 80 L500 90 L580 100 L690 110 L690 200 L600 190 L540 200 L500 230 L480 270 L470 300 L440 430Z"/>
<path fill="#a6d4f8" d="M360 60 L420 62 L500 70 L520 95 L450 108 L380 100Z"/>
<path fill="#1e8cf0" d="M380 140 L440 130 L520 150 L550 170 L540 200 L480 230 L420 260 L370 260 L350 200Z"/>
<path fill="#1e8cf0" d="M200 100 L240 60 L290 45 L330 60 L350 100 L330 130 L280 120 L230 130Z"/>
<path fill="#3c64d2" d="M118 430 L122 300 L135 200 L170 135 L220 110 L280 110 L330 135 L360 200 L380 260 L430 280 L460 300 L470 430Z"/>
<path fill="#0000c8" d="M200 125 L260 130 L300 180 L320 250 L330 330 L320 430 L118 430 L115 340 L122 260 L140 190 L170 140Z"/>
<path fill="#a01ec8" d="M205 150 L260 160 L290 200 L305 260 L310 330 L300 430 L130 430 L125 350 L135 270 L155 210 L180 165Z"/>
<path fill="#120070" d="M215 165 L250 175 L275 210 L290 260 L295 320 L290 380 L280 430 L150 430 L145 360 L150 290 L165 230 L190 180Z"/>
<path fill="#0000c8" d="M290 340 L330 330 L380 335 L400 360 L390 390 L340 400 L300 410 L290 380Z"/>
<path fill="#00b4f0" d="M585 300 L610 290 L625 340 L635 430 L600 430Z"/>
<path fill="#a6d4f8" d="M605 300 L635 295 L650 350 L655 430 L630 430 L620 340Z"/>
<path fill="#0000c8" d="M449 290 L500 280 L560 290 L590 340 L600 420 L580 470 L455 470 L449 380Z"/>
<path fill="#a01ec8" d="M470 305 L510 295 L550 305 L575 350 L585 430 L480 430 L470 380Z"/>
<path fill="#120070" d="M490 345 L520 340 L540 380 L545 430 L495 430 L488 390Z"/>
<path fill="#c8f0ff" d="M520 220 L600 200 L690 210 L690 300 L600 280 L560 270Z"/>
<path fill="#ffffc8" d="M560 250 L600 280 L640 320 L690 330 L690 380 L650 370 L620 350 L590 320 L570 280Z"/>
<path fill="#ffdc32" d="M630 360 L690 340 L690 430 L640 430Z"/>
<path fill="#ffdc32" d="M400 -10 L690 -10 L690 65 L600 68 L520 65 L460 50 L420 30Z"/>
<path fill="#ffa500" d="M450 -10 L690 -10 L690 52 L600 55 L520 50 L470 30Z"/>
<path fill="#ff6400" d="M480 -10 L690 -10 L690 40 L600 45 L530 38 L495 18Z"/>
<path fill="#ff0000" d="M500 -10 L690 -10 L690 30 L600 33 L540 25 L515 10Z"/>
<path fill="#cc0000" d="M525 -10 L660 -10 L640 15 L580 20 L540 10Z"/>
<path fill="#a01ec8" d="M555 -10 L610 -10 L590 8 L565 8Z"/>
</g></g>
<g clip-path="url(#tec)"><g transform="translate(368,227) scale(0.19904)">
<rect x="-20" y="-20" width="400" height="460" fill="#ffffc8"/>
<path fill="#c8f0ff" d="M180 -10 L260 -10 L250 20 L190 25Z"/>
<path fill="#c8f0ff" d="M280 -10 L360 -10 L360 250 L300 230 L280 160 L300 100 L320 60 L290 30Z"/>
<path fill="#ffdc32" d="M-10 -10 L170 -10 L150 60 L60 70 L-10 60Z"/>
<path fill="#ffa500" d="M-10 -10 L150 -10 L130 50 L50 55 L-10 50Z"/>
<path fill="#ff6400" d="M-10 -10 L125 -10 L110 42 L40 48 L-10 45Z"/>
<path fill="#ff0000" d="M-10 -10 L100 -10 L90 35 L30 40 L-10 40Z"/>
<path fill="#cc0000" d="M-10 -10 L60 -10 L40 25 L-10 25Z"/>
<path fill="#a01ec8" d="M-10 -10 L30 -10 L15 10 L-10 10Z"/>
<path fill="#ffdc32" d="M90 90 L150 70 L220 65 L280 80 L300 100 L270 130 L200 120 L140 110 L100 100Z"/>
<path fill="#ffa500" d="M130 88 L220 84 L225 94 L130 97Z"/>
<path fill="#c8f0ff" d="M-10 95 L60 90 L150 110 L190 140 L200 200 L180 260 L150 290 L100 300 L40 290 L-10 280Z"/>
<path fill="#a6d4f8" d="M-10 110 L150 120 L175 170 L160 240 L130 290 L80 270 L-10 240Z"/>
<path fill="#00b4f0" d="M-10 110 L60 115 L130 125 L160 140 L170 170 L140 190 L60 185 L-10 180Z"/>
<path fill="#ffdc32" d="M-10 380 L50 350 L150 360 L250 320 L300 260 L330 200 L360 180 L360 430 L-10 430Z"/>
<path fill="#ffa500" d="M40 430 L100 380 L200 370 L260 340 L300 290 L330 260 L360 240 L360 430Z"/>
<path fill="#ff6400" d="M150 430 L220 380 L270 360 L300 330 L330 300 L360 290 L360 430Z"/>
<path fill="#ff0000" d="M200 430 L240 390 L290 370 L320 400 L330 430Z"/>
<path fill="#cc0000" d="M230 430 L260 395 L290 390 L300 430Z"/>
<path fill="#a01ec8" d="M260 430 L280 400 L290 430Z"/>
<path fill="#1e8cf0" d="M-10 390 L20 380 L40 430 L-10 430Z"/>
</g></g>
<g clip-path="url(#tedg)"><g transform="translate(248,325) scale(0.2)">
<rect x="-20" y="-90" width="720" height="530" fill="#0000c8"/>
<path fill="#3c64d2" d="M250 -80 L690 -80 L690 430 L480 430 L480 340 L460 300 L420 280 L330 280 L280 300 L260 250 L255 180 L265 100Z"/>
<path fill="#1e8cf0" d="M275 30 L370 20 L420 80 L470 130 L540 180 L600 210 L690 230 L690 300 L600 290 L520 260 L470 240 L420 270 L350 270 L290 290 L270 250 L270 90Z"/>
<path fill="#00b4f0" d="M350 20 L440 15 L520 40 L600 50 L690 60 L690 260 L600 240 L540 200 L470 160 L420 110 L380 60Z"/>
<path fill="#a6d4f8" d="M370 40 L450 25 L560 30 L640 50 L660 100 L680 180 L690 220 L620 220 L560 190 L500 150 L440 100Z"/>
<path fill="#c8f0ff" d="M400 45 L470 35 L560 35 L620 55 L650 130 L670 190 L640 210 L570 180 L510 130 L450 80Z"/>
<path fill="#ffffc8" d="M440 45 L530 40 L600 50 L630 90 L650 150 L660 190 L620 195 L570 160 L520 120 L470 70Z"/>
<path fill="#ffdc32" d="M490 50 L600 45 L610 80 L600 140 L560 145 L510 100Z"/>
<path fill="#ffa500" d="M500 55 L600 50 L605 80 L580 120 L530 110 L505 80Z"/>
<path fill="#ff6400" d="M510 58 L600 55 L600 80 L570 105 L530 95Z"/>
<path fill="#ff0000" d="M530 60 L600 58 L595 85 L565 100 L540 85Z"/>
<path fill="#cc0000" d="M555 65 L590 62 L590 80 L570 90Z"/>
<path fill="#a01ec8" d="M600 -60 L690 -70 L690 40 L640 50 L610 20Z"/>
<path fill="#120070" d="M630 -20 L690 -30 L690 20 L640 20Z"/>
<path fill="#120070" d="M620 90 L690 80 L690 120 L630 115Z"/>
<path fill="#7814e6" d="M200 -80 L350 -80 L340 -30 L300 0 L280 20 L240 -10Z"/>
<path fill="#0000c8" d="M455 -80 L590 -80 L580 -40 L540 -20 L470 -30Z"/>
<path fill="#a01ec8" d="M475 -80 L575 -80 L560 -50 L520 -40 L480 -50Z"/>
<path fill="#c8f0ff" d="M-10 -80 L100 -80 L95 10 L100 80 L90 130 L-10 135Z"/>
<path fill="#ffffc8" d="M-10 20 L40 10 L60 40 L70 110 L-10 120Z"/>
<path fill="#ffdc32" d="M-10 -80 L45 -80 L35 -10 L15 30 L-10 40Z"/>
<path fill="#ffa500" d="M-10 -80 L35 -80 L25 -10 L-10 10Z"/>
<path fill="#ff0000" d="M-10 -80 L25 -80 L15 -20 L-10 -10Z"/>
<path fill="#cc0000" d="M-10 -80 L12 -80 L8 -45 L-10 -40Z"/>
<path fill="#3c64d2" d="M55 20 L150 20 L160 50 L130 110 L70 115 L55 80Z"/>
<path fill="#7814e6" d="M110 -80 L320 -80 L305 0 L290 60 L270 140 L240 200 L200 250 L140 290 L80 320 L-10 335 L-10 125 L60 110 L120 90 L155 50 L160 0 L135 -40Z"/>
<path fill="#a01ec8" d="M125 -80 L305 -80 L295 -30 L280 0 L270 60 L250 130 L220 190 L180 240 L120 280 L60 300 L-10 312 L-10 118 L60 108 L120 88 L160 48 L172 0 L150 -40Z"/>
<path fill="#120070" d="M140 -80 L285 -80 L275 -40 L255 0 L240 60 L210 110 L170 150 L130 200 L100 240 L60 260 L-10 272 L-10 142 L40 145 L100 130 L150 100 L185 55 L190 0 L165 -40Z"/>
<path fill="#1e8cf0" d="M50 202 L90 200 L80 215 L55 214Z"/>
<path fill="#3c64d2" d="M-10 360 L60 350 L150 345 L200 370 L230 430 L-10 430Z"/>
<path fill="#3c64d2" d="M260 60 L300 30 L360 20 L360 290 L280 280 L250 230 L245 150Z"/>
<path fill="#1e8cf0" d="M285 50 L360 40 L360 240 L300 230 L280 160Z"/>
<path fill="#0000c8" d="M250 280 L330 275 L420 280 L470 300 L480 340 L480 430 L280 430 L270 380 L260 320Z"/>
<path fill="#7814e6" d="M280 360 L360 355 L370 400 L290 410Z"/>
</g></g>
<g clip-path="url(#tef1)"><g transform="translate(368,311) scale(0.19904)">
<rect x="-20" y="-20" width="400" height="460" fill="#0000c8"/>
<path fill="#00b4f0" d="M-10 -10 L70 -10 L60 60 L120 100 L200 115 L270 135 L300 150 L360 160 L360 175 L250 165 L150 140 L80 105 L-10 85Z"/>
<path fill="#ffffc8" d="M240 90 L300 100 L330 60 L360 40 L360 155 L300 145 L260 125Z"/>
<path fill="#c8f0ff" d="M320 120 L360 110 L360 160 L330 150Z"/>
<path fill="#ffdc32" d="M40 -10 L330 -10 L320 60 L300 110 L270 130 L200 110 L120 100 L60 60Z"/>
<path fill="#ffa500" d="M70 -10 L320 -10 L300 80 L260 110 L180 95 L110 80 L80 40Z"/>
<path fill="#ff6400" d="M90 -10 L310 -10 L290 70 L250 95 L180 85 L120 70 L100 40Z"/>
<path fill="#ff0000" d="M110 -10 L300 -10 L285 55 L240 85 L170 75 L130 55Z"/>
<path fill="#cc0000" d="M140 -10 L295 -10 L280 45 L230 75 L170 62 L145 40Z"/>
<path fill="#a01ec8" d="M190 20 L250 -10 L295 -10 L275 40 L230 60 L190 50Z"/>
<path fill="#f064b4" d="M250 10 L280 -5 L290 20 L275 40 L255 35Z"/>
<path fill="#a01ec8" d="M20 80 L60 70 L120 100 L170 130 L210 170 L200 195 L130 190 L70 195 L30 180 L15 130Z"/>
<path fill="#120070" d="M50 100 L110 110 L160 140 L180 175 L120 175 L60 170 L40 130Z"/>
<path fill="#a01ec8" d="M180 175 L280 162 L360 160 L360 205 L280 212 L190 212Z"/>
<path fill="#120070" d="M210 182 L280 172 L360 170 L360 195 L280 200 L215 203Z"/>
<path fill="#7814e6" d="M200 222 L300 212 L360 210 L360 262 L280 270 L220 255Z"/>
<path fill="#a01ec8" d="M240 230 L360 222 L360 245 L260 250Z"/>
<path fill="#ffffc8" d="M-10 180 L40 190 L60 230 L60 280 L-10 290Z"/>
<path fill="#a6d4f8" d="M40 190 L100 200 L140 250 L150 300 L120 320 L60 300 L60 230Z"/>
<path fill="#a01ec8" d="M250 310 L360 290 L360 330 L260 340Z"/>
</g></g>
<g clip-path="url(#tef2)"><g transform="translate(368,325) scale(0.19904)">
<rect x="-20" y="-20" width="400" height="460" fill="#0000c8"/>
<path fill="#ffffc8" d="M-10 100 L40 120 L70 170 L60 210 L-10 215Z"/>
<path fill="#a6d4f8" d="M40 150 L120 190 L150 240 L140 270 L80 260 L-10 240 L-10 215 L60 210Z"/>
<path fill="#00b4f0" d="M-10 240 L150 260 L200 290 L190 330 L-10 330Z"/>
<path fill="#1e8cf0" d="M-10 320 L200 330 L220 380 L200 430 L-10 430Z"/>
<path fill="#7814e6" d="M230 260 L360 250 L360 400 L260 390 L230 330Z"/>
<path fill="#a01ec8" d="M250 300 L360 290 L360 360 L270 350Z"/>
<path fill="#3c64d2" d="M180 380 L300 380 L300 430 L180 430Z"/>
</g></g>
<g>
<path fill="#ffdc32" d="M248 290 L263 290 L264 305 L262 318 L259 327 L248 328Z"/>
<path fill="#ffa500" d="M248 292 L259 292 L259 310 L257 320 L255 327 L248 328Z"/>
<path fill="#ff6400" d="M248 296 L257 297 L257 312 L255 322 L252 327 L248 327Z"/>
<path fill="#ff0000" d="M248 299 L256 302 L256 315 L254 322 L251 326 L248 327Z"/>
<path fill="#cc0000" d="M248 304 L253.5 306 L253.5 316 L251 322 L248 323Z"/>
<path fill="#a01ec8" d="M248 308.5 L251.5 309.5 L252.5 313.5 L251.5 317.5 L248 318.5Z"/>
<path fill="#f064b4" d="M248 310.6 L250.5 311 L251.2 313.7 L250.5 316.5 L248 316.8Z"/>
<path fill="#ffffc8" d="M261 304 L264 292 L266.5 292 L265 310 L264 322 L261 329 L256 329Z"/>
<path fill="#c8f0ff" d="M264 292 L268 292 L266.5 310 L265.5 322 L263 329 L261 329 L264 322 L265 310 L266.5 292Z"/>
<path fill="#00b4f0" d="M266.5 292 L270.5 292 L269.5 310 L268 322 L265 328 L262 328 L265.5 322 L266.5 310 L268 292Z"/>
<path fill="#0000c8" d="M270.5 292 L274.5 292 L273 310 L271 320 L268 324 L265.5 325 L268 322 L269.5 310Z"/>
<path fill="#a01ec8" d="M274.5 292 L279 292 L278 305 L277 315 L286 318 L286 327 L262 327 L265.5 325 L268 324 L271 320 L273 310Z"/>
<path fill="#120070" d="M279 292 L287 292 L287 318 L277 315 L278 305Z"/>
<path fill="#ffffc8" d="M248 328 L254 328 L254 341 L248 341Z"/>
<path fill="#c8f0ff" d="M254 328 L259 328 L259 341 L254 341Z"/>
<path fill="#00b4f0" d="M259 328 L262 327.5 L262.5 341 L259 341Z"/>
<path fill="#3c64d2" d="M262 327.5 L278 327 L279 341 L262.5 341Z"/>
<path fill="#1e8cf0" d="M277 327 L281 327 L282 341 L278 341Z"/>
</g>
<!--LINES-->
<defs><clipPath id="ecore"><rect x="248" y="227" width="190" height="95"/></clipPath></defs>
<g fill="none" stroke="#111" stroke-width="0.75" stroke-dasharray="2.6 1.8" stroke-linejoin="round">
<g clip-path="url(#ecore)">
<path d="M297.0 288.0 L296.4 290.6 L295.6 293.2 L294.8 295.7 L293.9 298.0 L292.9 300.2 L291.8 302.1 L290.8 303.9 L289.7 305.3 L288.6 306.5 L287.6 307.3 L286.6 307.8 L285.6 308.0 L284.7 307.8 L283.9 307.3 L283.3 306.5 L282.7 305.3 L282.2 303.9 L281.9 302.1 L281.8 300.2 L281.7 298.0 L281.8 295.7 L282.1 293.2 L282.5 290.6 L283.0 288.0 L283.6 285.4 L284.4 282.8 L285.2 280.3 L286.1 278.0 L287.1 275.8 L288.2 273.9 L289.2 272.1 L290.3 270.7 L291.4 269.5 L292.4 268.7 L293.4 268.2 L294.4 268.0 L295.3 268.2 L296.1 268.7 L296.7 269.5 L297.3 270.7 L297.8 272.1 L298.1 273.9 L298.2 275.8 L298.3 278.0 L298.2 280.3 L297.9 282.8 L297.5 285.4Z"/>
<path d="M300.0 288.0 L299.2 291.4 L298.2 294.7 L297.0 297.9 L295.8 301.0 L294.5 303.8 L293.0 306.4 L291.5 308.6 L290.0 310.5 L288.5 312.0 L287.1 313.1 L285.6 313.8 L284.3 314.0 L283.0 313.8 L281.9 313.1 L280.9 312.0 L280.0 310.5 L279.4 308.6 L278.9 306.4 L278.6 303.8 L278.5 301.0 L278.6 297.9 L278.9 294.7 L279.3 291.4 L280.0 288.0 L280.8 284.6 L281.8 281.3 L283.0 278.1 L284.2 275.0 L285.5 272.2 L287.0 269.6 L288.5 267.4 L290.0 265.5 L291.5 264.0 L292.9 262.9 L294.4 262.2 L295.7 262.0 L297.0 262.2 L298.1 262.9 L299.1 264.0 L300.0 265.5 L300.6 267.4 L301.1 269.6 L301.4 272.2 L301.5 275.0 L301.4 278.1 L301.1 281.3 L300.7 284.6Z"/>
<path d="M304.0 288.0 L302.9 292.3 L301.6 296.5 L300.2 300.6 L298.5 304.5 L296.7 308.1 L294.8 311.3 L292.8 314.2 L290.7 316.6 L288.7 318.5 L286.6 319.9 L284.6 320.7 L282.7 321.0 L281.0 320.7 L279.4 319.9 L277.9 318.5 L276.7 316.6 L275.7 314.2 L275.0 311.3 L274.5 308.1 L274.2 304.5 L274.3 300.6 L274.6 296.5 L275.2 292.3 L276.0 288.0 L277.1 283.7 L278.4 279.5 L279.8 275.4 L281.5 271.5 L283.3 267.9 L285.2 264.7 L287.2 261.8 L289.3 259.4 L291.3 257.5 L293.4 256.1 L295.4 255.3 L297.3 255.0 L299.0 255.3 L300.6 256.1 L302.1 257.5 L303.3 259.4 L304.3 261.8 L305.0 264.7 L305.5 267.9 L305.8 271.5 L305.7 275.4 L305.4 279.5 L304.8 283.7Z"/>
<path d="M308.0 288.0 L306.7 293.4 L305.1 298.6 L303.2 303.7 L301.1 308.5 L298.8 313.0 L296.3 317.0 L293.8 320.5 L291.2 323.5 L288.6 325.9 L285.9 327.6 L283.4 328.6 L281.0 329.0 L278.7 328.6 L276.6 327.6 L274.8 325.9 L273.2 323.5 L271.9 320.5 L270.9 317.0 L270.2 313.0 L269.9 308.5 L269.9 303.7 L270.3 298.6 L271.0 293.4 L272.0 288.0 L273.3 282.6 L274.9 277.4 L276.8 272.3 L278.9 267.5 L281.2 263.0 L283.7 259.0 L286.2 255.5 L288.8 252.5 L291.4 250.1 L294.1 248.4 L296.6 247.4 L299.0 247.0 L301.3 247.4 L303.4 248.4 L305.2 250.1 L306.8 252.5 L308.1 255.5 L309.1 259.0 L309.8 263.0 L310.1 267.5 L310.1 272.3 L309.7 277.4 L309.0 282.6Z"/>
<path d="M312.0 288.0 L310.4 294.3 L308.5 300.4 L306.3 306.4 L303.8 312.0 L301.0 317.2 L298.1 321.9 L295.0 326.1 L291.9 329.6 L288.7 332.3 L285.5 334.4 L282.4 335.6 L279.4 336.0 L276.7 335.6 L274.1 334.4 L271.8 332.3 L269.9 329.6 L268.2 326.1 L267.0 321.9 L266.1 317.2 L265.7 312.0 L265.6 306.4 L266.0 300.4 L266.8 294.3 L268.0 288.0 L269.6 281.7 L271.5 275.6 L273.7 269.6 L276.2 264.0 L279.0 258.8 L281.9 254.1 L285.0 249.9 L288.1 246.4 L291.3 243.7 L294.5 241.6 L297.6 240.4 L300.6 240.0 L303.3 240.4 L305.9 241.6 L308.2 243.7 L310.1 246.4 L311.8 249.9 L313.0 254.1 L313.9 258.8 L314.3 264.0 L314.4 269.6 L314.0 275.6 L313.2 281.7Z"/>
</g>
<path d="M283 272 L290 278 L297 271"/>
<path d="M283 279 L290 285 L297 278"/>
<path d="M283 286 L290 292 L297 285"/>
<path d="M283 293 L290 299 L297 292"/>
<path d="M283 300 L290 306 L297 299"/>
<path d="M283 307 L290 313 L297 306"/>
<path d="M306 236 L314 240 L318 260 L320 280 L318 294"/>
<path d="M310 236 L322 252 L334 258 L340 266 L344 278 L350 288 L362 300 L368 312"/>
<path d="M300 240 L305 236 L310 234 L314 237 L311 242 L304 243Z"/>
<path d="M302 239 L306 237 L309 239 L305 241Z"/>
<path d="M253 371 L278 361 L298 346 L313 331"/>
<path d="M248 396 L268 391 L293 386 L318 376 L343 376 L363 381 L383 371 L403 361 L428 351 L438 346"/>
<path d="M316 350 L330 352 L345 348 L360 340 L372 334"/>
<path d="M330 372 L336 380 L340 395 L338 409"/>
<path d="M384 250 L392 248 L398 252 L400 260 L396 268 L388 268 L384 262Z"/>
</g>
<g fill="none" stroke="#333" stroke-width="0.7" stroke-linejoin="round">
<path d="M248 238 L260.3 236.8 L268.8 240.5 L278.7 238.6 L288.5 235.6 L297 231.9 L306.9 230"/>
<path d="M268.8 240.5 L266.4 245.4 L255.4 247.8 L248 249"/>
<path d="M330 236 L345 237 L360 238 L370 238.5 L380 239 L390 236 L396 230 L398 227"/>
<path d="M407.7 227 L415.7 233 L421.7 239 L419.7 245 L425.6 247 L438 245"/>
<path d="M330 330 L338 332 L350 336 L358 346 L364 352 L374 356"/>
<path d="M363.9 278.8 L371.9 292.7 L389.8 298.7 L409.7 284.7 L425.6 270.8 L438 266.8"/>
<path d="M396 320 L410 326 L426 330 L438 331"/>
</g>

</g>
<g transform="translate(248,227.4)">
<g clip-path="url(#cp)">
<line x1="0" y1="101.1" x2="190" y2="101.1" stroke="#000" stroke-opacity="0.55" stroke-width="1.4" stroke-dasharray="4.8 3"/>
</g>
<path d="M0.00 0v2.5M0.00 181.5v-2.5M14.62 0v2.5M14.62 181.5v-2.5M29.23 0v2.5M29.23 181.5v-2.5M43.85 0v2.5M43.85 181.5v-2.5M58.46 0v2.5M58.46 181.5v-2.5M73.08 0v2.5M73.08 181.5v-2.5M87.69 0v2.5M87.69 181.5v-2.5M102.31 0v2.5M102.31 181.5v-2.5M116.92 0v2.5M116.92 181.5v-2.5M131.54 0v2.5M131.54 181.5v-2.5M146.15 0v2.5M146.15 181.5v-2.5M160.77 0v2.5M160.77 181.5v-2.5M175.38 0v2.5M175.38 181.5v-2.5M190.00 0v2.5M190.00 181.5v-2.5M0 161.40h2M190 161.40h-2M0 141.30h3M190 141.30h-3M0 121.20h2M190 121.20h-2M0 101.10h3M190 101.10h-3M0 81.00h2M190 81.00h-2M0 60.90h3M190 60.90h-3M0 40.80h2M190 40.80h-2M0 20.70h3M190 20.70h-3M0 0.60h2M190 0.60h-2" stroke="#222" stroke-width="0.8" fill="none"/>
<rect x="0" y="0" width="190" height="181.5" fill="none" stroke="#222" stroke-width="1"/>
<text x="0" y="-4.5" font-size="13" font-weight="bold" fill="#111">e</text>
<text x="49.3" y="-5.1" font-size="11" textLength="43.7" lengthAdjust="spacingAndGlyphs">overall Q</text><text x="94" y="-9" font-size="6.5" font-style="italic">w</text><text x="93.7" y="-2.2" font-size="6.5" font-style="italic">e</text><text x="104" y="-5.1" font-size="11" textLength="36.1" lengthAdjust="spacingAndGlyphs">and &#916;<tspan font-style="italic">&#964;</tspan></text>
<text x="0.00" y="193.2" font-size="10.2" text-anchor="middle">3</text>
<text x="14.62" y="193.2" font-size="10.2" text-anchor="middle">4</text>
<text x="29.23" y="193.2" font-size="10.2" text-anchor="middle">5</text>
<text x="43.85" y="193.2" font-size="10.2" text-anchor="middle">6</text>
<text x="58.46" y="193.2" font-size="10.2" text-anchor="middle">7</text>
<text x="73.08" y="193.2" font-size="10.2" text-anchor="middle">8</text>
<text x="87.69" y="193.2" font-size="10.2" text-anchor="middle">9</text>
<text x="102.31" y="193.2" font-size="10.2" text-anchor="middle">10</text>
<text x="116.92" y="193.2" font-size="10.2" text-anchor="middle">11</text>
<text x="131.54" y="193.2" font-size="10.2" text-anchor="middle">12</text>
<text x="146.15" y="193.2" font-size="10.2" text-anchor="middle">1</text>
<text x="160.77" y="193.2" font-size="10.2" text-anchor="middle">2</text>
<text x="175.38" y="193.2" font-size="10.2" text-anchor="middle">3</text>
<text x="190.00" y="193.2" font-size="10.2" text-anchor="middle">4</text>
<path d="M191.3 10.430000000000007L194.60000000000002 0.4L197.9 10.430000000000007Z" fill="#f064b4"/>
<rect x="191.3" y="10.43" width="6.6" height="10.34" fill="#5a0096"/>
<rect x="191.3" y="20.47" width="6.6" height="10.34" fill="#a82828"/>
<rect x="191.3" y="30.51" width="6.6" height="10.34" fill="#cc0000"/>
<rect x="191.3" y="40.55" width="6.6" height="10.34" fill="#ff0000"/>
<rect x="191.3" y="50.59" width="6.6" height="10.34" fill="#ff6400"/>
<rect x="191.3" y="60.63" width="6.6" height="10.34" fill="#ffa500"/>
<rect x="191.3" y="70.67" width="6.6" height="10.34" fill="#ffdc32"/>
<rect x="191.3" y="80.71" width="6.6" height="10.34" fill="#ffffc8"/>
<rect x="191.3" y="90.75" width="6.6" height="10.34" fill="#c8f0ff"/>
<rect x="191.3" y="100.79" width="6.6" height="10.34" fill="#a0d2f5"/>
<rect x="191.3" y="110.83" width="6.6" height="10.34" fill="#00b4f0"/>
<rect x="191.3" y="120.87" width="6.6" height="10.34" fill="#1e8cf0"/>
<rect x="191.3" y="130.91" width="6.6" height="10.34" fill="#3c64d2"/>
<rect x="191.3" y="140.95" width="6.6" height="10.34" fill="#0000c8"/>
<rect x="191.3" y="150.99" width="6.6" height="10.34" fill="#7814e6"/>
<rect x="191.3" y="161.03" width="6.6" height="10.34" fill="#a01ec8"/>
<path d="M191.3 171.07L194.60000000000002 180.9L197.9 171.07Z" fill="#000064"/>
<text x="201.20000000000002" y="13.53" font-size="8.8">24</text>
<text x="201.20000000000002" y="33.61" font-size="8.8">18</text>
<text x="201.20000000000002" y="53.69" font-size="8.8">12</text>
<text x="201.20000000000002" y="73.77" font-size="8.8">6</text>
<text x="201.20000000000002" y="93.85" font-size="8.8">0</text>
<text x="201.20000000000002" y="113.93" font-size="8.8">-6</text>
<text x="201.20000000000002" y="134.01" font-size="8.8">-12</text>
<text x="201.20000000000002" y="154.09" font-size="8.8">-18</text>
<text x="201.20000000000002" y="174.17" font-size="8.8">-24</text>
</g>
<clipPath id="cpf"><rect x="470" y="227.4" width="190" height="181.5"/></clipPath>
<g clip-path="url(#cpf)">
<rect x="465" y="220" width="200" height="195" fill="#ffa500"/>
<path fill="#ffdc32" d="M465 220 L465 252.3 L470 252.3 L484.3 255 L501 248.3 L516 243.3 L520.9 236.7 L519.2 230 L517.6 226 Z"/>
<path fill="#ffdc32" d="M561 226 L561 228.3 L567.5 231.7 L584.2 233.3 L597.5 236.7 L602.5 239 L605.8 230 L607.5 226 Z"/>
<path fill="#ffdc32" d="M624.1 243.3 L627.4 238.3 L637.4 235 L650.7 231.7 L660 229 L665 229 L665 251.6 L660 251.6 L650.7 250 L637.4 248.3 L627.4 245.6 Z"/>
<path fill="#ff6400" d="M465 328.3 L470 328.3 L488.3 327.3 L491 320 L493.6 310 L494.3 300 L497.6 284.9 L504.3 271.6 L512.6 258.3 L520.9 248.3 L527.6 240 L530.9 237.6 L550.9 240 L567.5 241.6 L584.2 244.3 L594.1 250 L595.8 255 L594.1 261.6 L597.5 268.3 L600.8 278.3 L610.8 286.6 L620.8 289.9 L630.8 294.9 L632.4 300 L634.8 305 L639.1 313.3 L645.7 321.6 L652.4 326.6 L660 328.3 L665 328.3 L665 415 L465 415 Z"/>
<path fill="#ff0000" d="M528.2 260 L539.2 263.3 L532.6 268.3 L530.9 273.3 L528.2 271.6 Z"/>
<path fill="#ff0000" d="M545.9 260 L552.5 256.6 L554.2 253.3 L559.2 253.3 L560.9 258.3 L562.5 268.3 L562.5 279.9 L559.2 286.6 L560.9 293.2 L557.5 296.6 L554.2 291.6 L550.9 283.3 L547.5 278.3 L545.9 268.3 Z"/>
<path fill="#ff0000" d="M530.9 328.3 L535.9 316.6 L540.9 306.7 L550.9 302.7 L559.2 302.7 L570.8 306.7 L579.2 311.7 L580.8 318.3 L577.5 325 L576.8 330 L579.2 336.6 L580.8 343.3 L582.5 353.3 L585.8 359.9 L589.1 356.6 L594.1 351.6 L604.1 348.3 L607.5 341.6 L605.8 336.6 L610.8 333.3 L617.4 333.3 L624.1 338.3 L627.4 343.3 L625.8 346.6 L632.4 351.6 L637.4 356.6 L644.1 361.6 L660 359.3 L665 359.3 L665 415 L465 415 L465 361.6 L470 361.6 L484.3 359.3 L497.6 356.6 L505.9 349.9 L510.9 344.9 L509.3 339.9 L514.2 334.9 L522.6 331.6 Z"/>
<path fill="#ff6400" d="M527.6 368.2 L537.6 365.9 L550.9 365.6 L562.5 366.6 L564.2 369.9 L559.2 371.6 L554.2 378.2 L547.5 384.9 L542.5 388.2 L530.9 385.9 L525.9 381.6 L526.9 374.9 Z"/>
<path fill="#ff6400" d="M584.2 368.2 L587.5 366.6 L589.1 371.6 L587.5 375.9 L583.5 373.9 Z"/>

</g>
<g transform="translate(470,227.4)">
<g clip-path="url(#cp)">
<line x1="0" y1="101.1" x2="190" y2="101.1" stroke="#000" stroke-opacity="0.55" stroke-width="1.4" stroke-dasharray="4.8 3"/>
</g>
<path d="M0.00 0v2.5M0.00 181.5v-2.5M14.62 0v2.5M14.62 181.5v-2.5M29.23 0v2.5M29.23 181.5v-2.5M43.85 0v2.5M43.85 181.5v-2.5M58.46 0v2.5M58.46 181.5v-2.5M73.08 0v2.5M73.08 181.5v-2.5M87.69 0v2.5M87.69 181.5v-2.5M102.31 0v2.5M102.31 181.5v-2.5M116.92 0v2.5M116.92 181.5v-2.5M131.54 0v2.5M131.54 181.5v-2.5M146.15 0v2.5M146.15 181.5v-2.5M160.77 0v2.5M160.77 181.5v-2.5M175.38 0v2.5M175.38 181.5v-2.5M190.00 0v2.5M190.00 181.5v-2.5M0 161.40h2M190 161.40h-2M0 141.30h3M190 141.30h-3M0 121.20h2M190 121.20h-2M0 101.10h3M190 101.10h-3M0 81.00h2M190 81.00h-2M0 60.90h3M190 60.90h-3M0 40.80h2M190 40.80h-2M0 20.70h3M190 20.70h-3M0 0.60h2M190 0.60h-2" stroke="#222" stroke-width="0.8" fill="none"/>
<rect x="0" y="0" width="190" height="181.5" fill="none" stroke="#222" stroke-width="1"/>
<text x="0" y="-4.5" font-size="13" font-weight="bold" fill="#111">f</text>
<text x="62.9" y="-5.1" font-size="11" textLength="64.8" lengthAdjust="spacingAndGlyphs">overall &#916;SST</text>
<text x="0.00" y="193.2" font-size="10.2" text-anchor="middle">3</text>
<text x="14.62" y="193.2" font-size="10.2" text-anchor="middle">4</text>
<text x="29.23" y="193.2" font-size="10.2" text-anchor="middle">5</text>
<text x="43.85" y="193.2" font-size="10.2" text-anchor="middle">6</text>
<text x="58.46" y="193.2" font-size="10.2" text-anchor="middle">7</text>
<text x="73.08" y="193.2" font-size="10.2" text-anchor="middle">8</text>
<text x="87.69" y="193.2" font-size="10.2" text-anchor="middle">9</text>
<text x="102.31" y="193.2" font-size="10.2" text-anchor="middle">10</text>
<text x="116.92" y="193.2" font-size="10.2" text-anchor="middle">11</text>
<text x="131.54" y="193.2" font-size="10.2" text-anchor="middle">12</text>
<text x="146.15" y="193.2" font-size="10.2" text-anchor="middle">1</text>
<text x="160.77" y="193.2" font-size="10.2" text-anchor="middle">2</text>
<text x="175.38" y="193.2" font-size="10.2" text-anchor="middle">3</text>
<text x="190.00" y="193.2" font-size="10.2" text-anchor="middle">4</text>
<path d="M191.3 10.430000000000007L194.60000000000002 0.4L197.9 10.430000000000007Z" fill="#f064b4"/>
<rect x="191.3" y="10.43" width="6.6" height="10.34" fill="#5a0096"/>
<rect x="191.3" y="20.47" width="6.6" height="10.34" fill="#a82828"/>
<rect x="191.3" y="30.51" width="6.6" height="10.34" fill="#cc0000"/>
<rect x="191.3" y="40.55" width="6.6" height="10.34" fill="#ff0000"/>
<rect x="191.3" y="50.59" width="6.6" height="10.34" fill="#ff6400"/>
<rect x="191.3" y="60.63" width="6.6" height="10.34" fill="#ffa500"/>
<rect x="191.3" y="70.67" width="6.6" height="10.34" fill="#ffdc32"/>
<rect x="191.3" y="80.71" width="6.6" height="10.34" fill="#ffffc8"/>
<rect x="191.3" y="90.75" width="6.6" height="10.34" fill="#c8f0ff"/>
<rect x="191.3" y="100.79" width="6.6" height="10.34" fill="#a0d2f5"/>
<rect x="191.3" y="110.83" width="6.6" height="10.34" fill="#00b4f0"/>
<rect x="191.3" y="120.87" width="6.6" height="10.34" fill="#1e8cf0"/>
<rect x="191.3" y="130.91" width="6.6" height="10.34" fill="#3c64d2"/>
<rect x="191.3" y="140.95" width="6.6" height="10.34" fill="#0000c8"/>
<rect x="191.3" y="150.99" width="6.6" height="10.34" fill="#7814e6"/>
<rect x="191.3" y="161.03" width="6.6" height="10.34" fill="#a01ec8"/>
<path d="M191.3 171.07L194.60000000000002 180.9L197.9 171.07Z" fill="#000064"/>
<text x="201.20000000000002" y="13.53" font-size="8.8">1.5</text>
<text x="201.20000000000002" y="33.61" font-size="8.8">1.2</text>
<text x="201.20000000000002" y="53.69" font-size="8.8">0.9</text>
<text x="201.20000000000002" y="73.77" font-size="8.8">0.6</text>
<text x="201.20000000000002" y="93.85" font-size="8.8">0.3</text>
<text x="201.20000000000002" y="113.93" font-size="8.8">0</text>
<text x="201.20000000000002" y="134.01" font-size="8.8">-0.3</text>
<text x="201.20000000000002" y="154.09" font-size="8.8">-0.6</text>
<text x="201.20000000000002" y="174.17" font-size="8.8">-0.9</text>
</g>
<g stroke="#8a8a8a" stroke-width="1" stroke-dasharray="1 3" fill="none" stroke-opacity="0.8">
<path d="M262.62 19.80V21.50"/>
<path d="M262.62 55.80V77.50"/>
<path d="M262.62 79.80V81.50"/>
<path d="M262.62 91.80V93.50"/>
<path d="M277.23 55.80V69.50"/>
<path d="M277.23 79.80V89.50"/>
<path d="M291.85 19.80V33.50"/>
<path d="M291.85 39.80V41.50"/>
<path d="M291.85 55.80V73.50"/>
<path d="M291.85 83.80V89.50"/>
<path d="M306.46 19.80V93.50"/>
<path d="M321.08 19.80V145.50"/>
<path d="M335.69 19.80V153.50"/>
<path d="M350.31 19.80V73.50"/>
<path d="M350.31 83.80V114.50"/>
<path d="M364.92 23.80V82.50"/>
<path d="M364.92 95.80V97.50"/>
<path d="M364.92 107.80V114.50"/>
<path d="M379.54 19.80V82.50"/>
<path d="M379.54 107.80V117.50"/>
<path d="M394.15 39.80V70.50"/>
<path d="M408.77 19.80V94.50"/>
<path d="M423.38 19.80V94.50"/>
<path d="M40.62 147.80V191.50"/>
<path d="M55.23 127.80V136.50"/>
<path d="M55.23 147.80V160.50"/>
<path d="M55.23 67.80V98.50"/>
<path d="M128.31 175.80V191.50"/>
<path d="M172.15 147.80V164.50"/>
<path d="M186.77 163.80V191.50"/>
<path d="M201.38 151.80V191.50"/>
<path d="M84.46 175.80V188.50"/>
<path d="M543.08 63.80V98.50"/>
<path d="M543.08 103.80V110.50"/>
<path d="M557.69 63.80V110.50"/>
<path d="M572.31 23.80V120.50"/>
<path d="M586.92 19.80V104.50"/>
<path d="M601.54 19.80V98.50"/>
<path d="M601.54 123.80V150.50"/>
<path d="M616.15 19.80V34.50"/>
<path d="M616.15 119.80V150.50"/>
<path d="M630.77 131.80V164.50"/>
<path d="M645.38 19.80V34.50"/>
<path d="M645.38 131.80V168.50"/>
</g>
</svg></body></html>
